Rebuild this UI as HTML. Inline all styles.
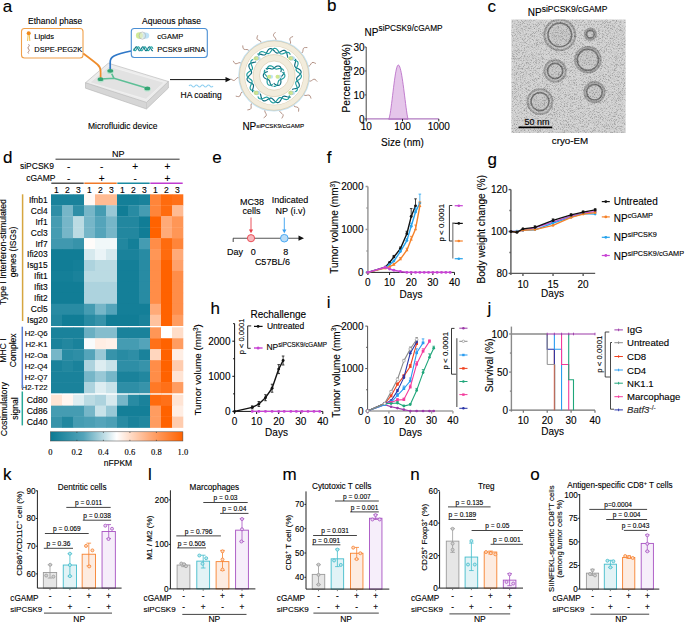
<!DOCTYPE html>
<html><head><meta charset="utf-8"><title>Figure</title>
<style>
html,body{margin:0;padding:0;background:#fff;}
svg{display:block;font-family:"Liberation Sans", sans-serif;}
text{stroke:#000;stroke-width:0.12px;}
</style></head>
<body>
<svg width="685" height="623" viewBox="0 0 685 623">
<text x="2.70" y="11.60" font-size="17" >a</text>
<text x="327.10" y="11.45" font-size="17" >b</text>
<text x="487.60" y="11.95" font-size="17" >c</text>
<text x="2.90" y="163.15" font-size="17" >d</text>
<text x="212.30" y="163.25" font-size="17" >e</text>
<text x="326.80" y="162.70" font-size="17" >f</text>
<text x="487.40" y="165.00" font-size="17" >g</text>
<text x="210.40" y="313.70" font-size="17" >h</text>
<text x="326.70" y="307.60" font-size="17" >i</text>
<text x="487.50" y="313.90" font-size="17" >j</text>
<text x="3.10" y="479.70" font-size="17" >k</text>
<text x="147.90" y="479.70" font-size="17" >l</text>
<text x="282.40" y="479.70" font-size="17" >m</text>
<text x="410.30" y="479.70" font-size="17" >n</text>
<text x="530.30" y="479.50" font-size="17" >o</text>
<text x="28.00" y="24.00" font-size="8.5" >Ethanol phase</text>
<rect x="21.5" y="28.5" width="61.5" height="29.5" rx="3" fill="#fff" stroke="#f0a04a" stroke-width="1.1"/>
<circle cx="28.70" cy="33.20" r="2.00" fill="#f08a1c" stroke="none" stroke-width="1" />
<path d="M28.1 35.0 L27.6 41.0 M29.3 35.0 L29.8 41.0" fill="none" stroke="#f2c14e" stroke-width="1.0" />
<text x="34.30" y="39.30" font-size="7.5" >Lipids</text>
<path d="M28.6 44.3 q1.4 1.2 0 2.4 q-1.4 1.2 0 2.4 q1.4 1.2 0 2.4 q-1.2 1 0 2" fill="none" stroke="#9a6a55" stroke-width="0.8" />
<text x="34.30" y="52.30" font-size="7.5" >DSPE-PEG2K</text>
<text x="142.00" y="24.00" font-size="8.5" >Aqueous phase</text>
<rect x="131.3" y="28.5" width="76" height="29" rx="3" fill="#fff" stroke="#4a8fd4" stroke-width="1.1"/>
<ellipse cx="145.6" cy="35.6" rx="3.6" ry="3.2" fill="#bfe3f7"/>
<ellipse cx="139.4" cy="35.6" rx="3.5" ry="3.3" fill="#d2ea98"/>
<ellipse cx="142.4" cy="35.6" rx="3.2" ry="3.6" fill="#e8efe6" fill-opacity="0.55" stroke="#9aa3a8" stroke-width="0.5"/>
<text x="157.30" y="39.30" font-size="7.5" >cGAMP</text>
<polyline points="133.50,50.66 133.99,50.12 134.47,49.30 134.96,48.36 135.45,47.53 135.94,46.96 136.43,46.80 136.91,47.08 137.40,47.73 137.89,48.61 138.38,49.54 138.86,50.30 139.35,50.74 139.84,50.75 140.32,50.34 140.81,49.59 141.30,48.67 141.79,47.78 142.28,47.11 142.76,46.81 143.25,46.94 143.74,47.48 144.22,48.30 144.71,49.24 145.20,50.07 145.69,50.64 146.18,50.80 146.66,50.52 147.15,49.87 147.64,48.99 148.12,48.06 148.61,47.30 149.10,46.86 149.59,46.85 150.07,47.26 150.56,48.01 151.05,48.93 151.54,49.82 152.03,50.49 152.51,50.79 153.00,50.66" fill="none" stroke="#0e7283" stroke-width="1.1" stroke-linejoin="round" />
<polyline points="133.50,48.80 133.99,49.71 134.47,50.42 134.96,50.78 135.45,50.70 135.94,50.21 136.43,49.42 136.91,48.49 137.40,47.62 137.89,47.02 138.38,46.80 138.86,47.02 139.35,47.62 139.84,48.49 140.32,49.42 140.81,50.21 141.30,50.70 141.79,50.78 142.28,50.42 142.76,49.71 143.25,48.80 143.74,47.89 144.22,47.18 144.71,46.82 145.20,46.90 145.69,47.39 146.18,48.18 146.66,49.11 147.15,49.98 147.64,50.58 148.12,50.80 148.61,50.58 149.10,49.98 149.59,49.11 150.07,48.18 150.56,47.39 151.05,46.90 151.54,46.82 152.03,47.18 152.51,47.89 153.00,48.80" fill="none" stroke="#22a3a3" stroke-width="1.1" stroke-linejoin="round" />
<text x="157.30" y="52.30" font-size="7.5" >PCSK9 siRNA</text>
<path d="M85.5 82.7 L85.5 88.2 L146.5 109.0 L168.4 88.0 L168.4 81.5 Z" fill="#d6d6d6" stroke="#b4b4b4" stroke-width="0.6" />
<path d="M146.5 102.6 L146.5 109.0" fill="none" stroke="#c4c4c4" stroke-width="0.6" />
<path d="M85.5 82.7 L108.3 63.2 L168.4 81.5 L146.5 102.4 Z" fill="#ececec" stroke="#b4b4b4" stroke-width="0.6" />
<path d="M89.8 82.5 L108.9 66.4 L164.2 82.4 L146.0 99.3 Z" fill="#e2e2e2" stroke="#f2f2f2" stroke-width="0.7" />
<path d="M100.6 79 L114 78.3 L147.3 88.2 M110.4 71 L114 78.3" fill="none" stroke="#5dbf96" stroke-width="1.6" />
<path d="M83.3 53.5 C88 57 94 61.5 97.5 64.5 C100 66.8 100.6 68.5 100.6 71 L100.6 78.2" fill="none" stroke="#ef8d2c" stroke-width="1.7" />
<path d="M131 51 C124 52.5 118 54 114 56 C111 57.6 110.2 59.5 110.2 62 L110.2 70" fill="none" stroke="#2f78c8" stroke-width="1.7" />
<ellipse cx="100.6" cy="80.10000000000001" rx="3.4" ry="2.3" fill="#b5e2cc"/>
<ellipse cx="100.6" cy="79.2" rx="2.9" ry="1.9" fill="#35a574"/>
<ellipse cx="110.3" cy="71.7" rx="3.4" ry="2.3" fill="#b5e2cc"/>
<ellipse cx="110.3" cy="70.8" rx="2.9" ry="1.9" fill="#35a574"/>
<ellipse cx="147.3" cy="89.30000000000001" rx="3.4" ry="2.3" fill="#b5e2cc"/>
<ellipse cx="147.3" cy="88.4" rx="2.9" ry="1.9" fill="#35a574"/>
<text x="88.00" y="129.00" font-size="8.5" >Microfluidic device</text>
<line x1="170.00" y1="79.60" x2="227.00" y2="79.60" stroke="#111" stroke-width="1" />
<path d="M231 79.6 L225.5 77.0 L225.5 82.2 Z" fill="#111" stroke="none" stroke-width="1" />
<path d="M189 86 q1.5 -2 3 0 q1.5 2 3 0 q1.5 -2 3 0 q1.5 2 3 0 q1.5 -2 3 0 q1.5 2 3 0 q1.5 -2 3 0 q1.5 2 3 0" fill="none" stroke="#8fcff0" stroke-width="1.2" />
<text x="180.50" y="97.90" font-size="8.5" >HA coating</text>
<defs><filter id="fz" x="-20%" y="-20%" width="140%" height="140%"><feGaussianBlur stdDeviation="0.6"/></filter></defs>
<polyline points="307.86,79.67 308.92,80.79 310.06,81.23 311.31,80.77 312.62,79.84 313.89,79.19 315.07,79.37 316.14,80.36 317.20,81.57" fill="none" stroke="#9b7060" stroke-width="0.75" stroke-linejoin="round" />
<polyline points="303.28,93.05 303.79,94.51 304.66,95.37 305.99,95.46 307.56,95.14 308.99,95.06 309.99,95.71 310.57,97.05 311.04,98.58" fill="none" stroke="#9b7060" stroke-width="0.75" stroke-linejoin="round" />
<polyline points="293.66,103.41 293.54,104.95 293.98,106.09 295.16,106.71 296.72,107.06 298.06,107.57 298.71,108.57 298.69,110.03 298.50,111.62" fill="none" stroke="#9b7060" stroke-width="0.75" stroke-linejoin="round" />
<polyline points="280.66,108.96 279.92,110.32 279.86,111.54 280.68,112.59 281.97,113.54 282.98,114.56 283.17,115.73 282.56,117.06 281.74,118.43" fill="none" stroke="#9b7060" stroke-width="0.75" stroke-linejoin="round" />
<polyline points="266.52,108.75 265.30,109.68 264.74,110.77 265.07,112.07 265.86,113.47 266.37,114.80 266.07,115.95 264.97,116.92 263.66,117.84" fill="none" stroke="#9b7060" stroke-width="0.75" stroke-linejoin="round" />
<polyline points="253.70,102.80 252.19,103.15 251.25,103.93 251.02,105.24 251.17,106.84 251.10,108.27 250.35,109.19 248.95,109.63 247.39,109.94" fill="none" stroke="#9b7060" stroke-width="0.75" stroke-linejoin="round" />
<polyline points="244.40,92.15 242.88,91.86 241.70,92.18 240.96,93.29 240.44,94.81 239.80,96.09 238.74,96.63 237.29,96.46 235.73,96.10" fill="none" stroke="#9b7060" stroke-width="0.75" stroke-linejoin="round" />
<polyline points="240.24,78.64 238.96,77.76 237.76,77.57 236.63,78.28 235.54,79.46 234.43,80.36 233.24,80.43 231.98,79.68 230.71,78.72" fill="none" stroke="#9b7060" stroke-width="0.75" stroke-linejoin="round" />
<polyline points="241.93,64.60 241.12,63.28 240.10,62.62 238.78,62.81 237.30,63.44 235.92,63.82 234.81,63.39 233.96,62.20 233.19,60.80" fill="none" stroke="#9b7060" stroke-width="0.75" stroke-linejoin="round" />
<polyline points="249.18,52.47 248.99,50.93 248.32,49.91 247.04,49.54 245.43,49.53 244.02,49.31 243.17,48.47 242.89,47.03 242.74,45.44" fill="none" stroke="#9b7060" stroke-width="0.75" stroke-linejoin="round" />
<polyline points="260.75,44.33 261.19,42.85 261.00,41.64 259.97,40.79 258.51,40.12 257.31,39.34 256.88,38.23 257.20,36.81 257.72,35.29" fill="none" stroke="#9b7060" stroke-width="0.75" stroke-linejoin="round" />
<polyline points="274.62,41.60 275.63,40.43 275.94,39.25 275.35,38.05 274.29,36.85 273.51,35.65 273.57,34.46 274.44,33.29 275.53,32.12" fill="none" stroke="#9b7060" stroke-width="0.75" stroke-linejoin="round" />
<polyline points="288.40,44.75 289.80,44.09 290.57,43.14 290.52,41.81 290.04,40.28 289.81,38.86 290.35,37.80 291.62,37.09 293.09,36.46" fill="none" stroke="#9b7060" stroke-width="0.75" stroke-linejoin="round" />
<polyline points="299.71,53.24 301.26,53.20 302.35,52.64 302.84,51.41 303.03,49.81 303.39,48.43 304.32,47.68 305.77,47.54 307.37,47.57" fill="none" stroke="#9b7060" stroke-width="0.75" stroke-linejoin="round" />
<polyline points="306.59,65.59 308.02,66.18 309.24,66.12 310.20,65.19 311.01,63.81 311.91,62.69 313.06,62.38 314.45,62.85 315.90,63.52" fill="none" stroke="#9b7060" stroke-width="0.75" stroke-linejoin="round" />
<circle cx="274.10" cy="75.60" r="34.60" fill="none" stroke="#c6e4f5" stroke-width="2.6" filter="url(#fz)"/>
<circle cx="274.10" cy="75.60" r="32.00" fill="none" stroke="#f2ecdc" stroke-width="5.4" />
<circle cx="274.10" cy="75.60" r="34.70" fill="none" stroke="#cdbb96" stroke-width="0.5" />
<circle cx="274.10" cy="75.60" r="29.30" fill="none" stroke="#cdbb96" stroke-width="0.5" />
<circle cx="274.10" cy="75.60" r="29.00" fill="#fff" stroke="none" stroke-width="1" />
<circle cx="274.10" cy="75.60" r="17.80" fill="none" stroke="#f2ecdc" stroke-width="6.4" />
<circle cx="274.10" cy="75.60" r="21.00" fill="none" stroke="#cdbb96" stroke-width="0.5" />
<circle cx="274.10" cy="75.60" r="14.60" fill="none" stroke="#cdbb96" stroke-width="0.5" />
<polyline points="257.46,54.16 258.27,54.01 259.18,54.02 260.14,54.18 261.11,54.41 262.05,54.67 262.92,54.89 263.71,55.02 264.40,55.00 265.00,54.80 265.51,54.41 265.97,53.84 266.40,53.11 266.82,52.28 267.27,51.40 267.77,50.54 268.32,49.77 268.95,49.16 269.63,48.74 270.36,48.56 271.12,48.63 271.89,48.92 272.66,49.41 273.40,50.04 274.10,50.74 274.76,51.46 275.39,52.10 276.00,52.62 276.60,52.97 277.21,53.11 277.86,53.05 278.54,52.80 279.29,52.41 280.08,51.92 280.93,51.40 281.80,50.93 282.68,50.56 283.53,50.36 284.33,50.37 285.04,50.59 285.66,51.05 286.17,51.70 286.56,52.52 286.86,53.44 287.09,54.41 287.29,55.36 287.49,56.24 287.73,57.00 288.06,57.61" fill="none" stroke="#0e6d7e" stroke-width="1.15" stroke-linejoin="round" />
<polyline points="258.77,55.85 258.90,54.86 259.11,53.93 259.44,53.10 259.89,52.42 260.48,51.94 261.19,51.68 262.00,51.62 262.88,51.76 263.79,52.05 264.71,52.43 265.60,52.85 266.44,53.23 267.21,53.51 267.91,53.64 268.54,53.59 269.12,53.34 269.67,52.89 270.22,52.27 270.77,51.54 271.36,50.75 271.98,49.98 272.65,49.29 273.36,48.75 274.10,48.41 274.85,48.31 275.59,48.45 276.31,48.83 276.99,49.41 277.62,50.13 278.21,50.94 278.75,51.76 279.26,52.52 279.77,53.17 280.29,53.64 280.86,53.93 281.49,54.02 282.20,53.92 282.98,53.68 283.84,53.35 284.75,52.98 285.69,52.65 286.62,52.41 287.50,52.32 288.31,52.42 289.00,52.73 289.56,53.24 289.98,53.94 290.26,54.78" fill="none" stroke="#1f9e9e" stroke-width="1.15" stroke-linejoin="round" />
<polyline points="295.54,58.96 295.69,59.77 295.68,60.68 295.52,61.64 295.29,62.61 295.03,63.55 294.81,64.42 294.68,65.21 294.70,65.90 294.90,66.50 295.29,67.01 295.86,67.47 296.59,67.90 297.42,68.32 298.30,68.77 299.16,69.27 299.93,69.82 300.54,70.45 300.96,71.13 301.14,71.86 301.07,72.62 300.78,73.39 300.29,74.16 299.66,74.90 298.96,75.60 298.24,76.26 297.60,76.89 297.08,77.50 296.73,78.10 296.59,78.71 296.65,79.36 296.90,80.04 297.29,80.79 297.78,81.58 298.30,82.43 298.77,83.30 299.14,84.18 299.34,85.03 299.33,85.83 299.11,86.54 298.65,87.16 298.00,87.67 297.18,88.06 296.26,88.36 295.29,88.59 294.34,88.79 293.46,88.99 292.70,89.23 292.09,89.56" fill="none" stroke="#0e6d7e" stroke-width="1.15" stroke-linejoin="round" />
<polyline points="293.85,60.27 294.84,60.40 295.77,60.61 296.60,60.94 297.28,61.39 297.76,61.98 298.02,62.69 298.08,63.50 297.94,64.38 297.65,65.29 297.27,66.21 296.85,67.10 296.47,67.94 296.19,68.71 296.06,69.41 296.11,70.04 296.36,70.62 296.81,71.17 297.43,71.72 298.16,72.27 298.95,72.86 299.72,73.48 300.41,74.15 300.95,74.86 301.29,75.60 301.39,76.35 301.25,77.09 300.87,77.81 300.29,78.49 299.57,79.12 298.76,79.71 297.94,80.25 297.18,80.76 296.53,81.27 296.06,81.79 295.77,82.36 295.68,82.99 295.78,83.70 296.02,84.48 296.35,85.34 296.72,86.25 297.05,87.19 297.29,88.12 297.38,89.00 297.28,89.81 296.97,90.50 296.46,91.06 295.76,91.48 294.92,91.76" fill="none" stroke="#1f9e9e" stroke-width="1.15" stroke-linejoin="round" />
<polyline points="290.74,97.04 289.93,97.19 289.02,97.18 288.06,97.02 287.09,96.79 286.15,96.53 285.28,96.31 284.49,96.18 283.80,96.20 283.20,96.40 282.69,96.79 282.23,97.36 281.80,98.09 281.38,98.92 280.93,99.80 280.43,100.66 279.88,101.43 279.25,102.04 278.57,102.46 277.84,102.64 277.08,102.57 276.31,102.28 275.54,101.79 274.80,101.16 274.10,100.46 273.44,99.74 272.81,99.10 272.20,98.58 271.60,98.23 270.99,98.09 270.34,98.15 269.66,98.40 268.91,98.79 268.12,99.28 267.27,99.80 266.40,100.27 265.52,100.64 264.67,100.84 263.87,100.83 263.16,100.61 262.54,100.15 262.03,99.50 261.64,98.68 261.34,97.76 261.11,96.79 260.91,95.84 260.71,94.96 260.47,94.20 260.14,93.59" fill="none" stroke="#0e6d7e" stroke-width="1.15" stroke-linejoin="round" />
<polyline points="289.43,95.35 289.30,96.34 289.09,97.27 288.76,98.10 288.31,98.78 287.72,99.26 287.01,99.52 286.20,99.58 285.32,99.44 284.41,99.15 283.49,98.77 282.60,98.35 281.76,97.97 280.99,97.69 280.29,97.56 279.66,97.61 279.08,97.86 278.53,98.31 277.98,98.93 277.43,99.66 276.84,100.45 276.22,101.22 275.55,101.91 274.84,102.45 274.10,102.79 273.35,102.89 272.61,102.75 271.89,102.37 271.21,101.79 270.58,101.07 269.99,100.26 269.45,99.44 268.94,98.68 268.43,98.03 267.91,97.56 267.34,97.27 266.71,97.18 266.00,97.28 265.22,97.52 264.36,97.85 263.45,98.22 262.51,98.55 261.58,98.79 260.70,98.88 259.89,98.78 259.20,98.47 258.64,97.96 258.22,97.26 257.94,96.42" fill="none" stroke="#1f9e9e" stroke-width="1.15" stroke-linejoin="round" />
<polyline points="252.66,92.24 252.51,91.43 252.52,90.52 252.68,89.56 252.91,88.59 253.17,87.65 253.39,86.78 253.52,85.99 253.50,85.30 253.30,84.70 252.91,84.19 252.34,83.73 251.61,83.30 250.78,82.88 249.90,82.43 249.04,81.93 248.27,81.38 247.66,80.75 247.24,80.07 247.06,79.34 247.13,78.58 247.42,77.81 247.91,77.04 248.54,76.30 249.24,75.60 249.96,74.94 250.60,74.31 251.12,73.70 251.47,73.10 251.61,72.49 251.55,71.84 251.30,71.16 250.91,70.41 250.42,69.62 249.90,68.77 249.43,67.90 249.06,67.02 248.86,66.17 248.87,65.37 249.09,64.66 249.55,64.04 250.20,63.53 251.02,63.14 251.94,62.84 252.91,62.61 253.86,62.41 254.74,62.21 255.50,61.97 256.11,61.64" fill="none" stroke="#0e6d7e" stroke-width="1.15" stroke-linejoin="round" />
<polyline points="254.35,90.93 253.36,90.80 252.43,90.59 251.60,90.26 250.92,89.81 250.44,89.22 250.18,88.51 250.12,87.70 250.26,86.82 250.55,85.91 250.93,84.99 251.35,84.10 251.73,83.26 252.01,82.49 252.14,81.79 252.09,81.16 251.84,80.58 251.39,80.03 250.77,79.48 250.04,78.93 249.25,78.34 248.48,77.72 247.79,77.05 247.25,76.34 246.91,75.60 246.81,74.85 246.95,74.11 247.33,73.39 247.91,72.71 248.63,72.08 249.44,71.49 250.26,70.95 251.02,70.44 251.67,69.93 252.14,69.41 252.43,68.84 252.52,68.21 252.42,67.50 252.18,66.72 251.85,65.86 251.48,64.95 251.15,64.01 250.91,63.08 250.82,62.20 250.92,61.39 251.23,60.70 251.74,60.14 252.44,59.72 253.28,59.44" fill="none" stroke="#1f9e9e" stroke-width="1.15" stroke-linejoin="round" />
<ellipse cx="292.6" cy="92.9" rx="2.6" ry="2.1" fill="#bfe3f6"/>
<ellipse cx="290.6" cy="92.9" rx="2.4" ry="2.1" fill="#cfe78e"/>
<ellipse cx="291.4" cy="92.9" rx="2.0" ry="2.0" fill="none" stroke="#9aa" stroke-width="0.35"/>
<ellipse cx="258.0" cy="92.9" rx="2.6" ry="2.1" fill="#bfe3f6"/>
<ellipse cx="256.0" cy="92.9" rx="2.4" ry="2.1" fill="#cfe78e"/>
<ellipse cx="256.8" cy="92.9" rx="2.0" ry="2.0" fill="none" stroke="#9aa" stroke-width="0.35"/>
<ellipse cx="258.0" cy="58.3" rx="2.6" ry="2.1" fill="#bfe3f6"/>
<ellipse cx="256.0" cy="58.3" rx="2.4" ry="2.1" fill="#cfe78e"/>
<ellipse cx="256.8" cy="58.3" rx="2.0" ry="2.0" fill="none" stroke="#9aa" stroke-width="0.35"/>
<ellipse cx="292.6" cy="58.3" rx="2.6" ry="2.1" fill="#bfe3f6"/>
<ellipse cx="290.6" cy="58.3" rx="2.4" ry="2.1" fill="#cfe78e"/>
<ellipse cx="291.4" cy="58.3" rx="2.0" ry="2.0" fill="none" stroke="#9aa" stroke-width="0.35"/>
<polyline points="265.75,68.97 266.15,68.73 266.59,68.54 267.06,68.41 267.55,68.33 268.06,68.30 268.57,68.32 269.07,68.37 269.56,68.46 270.02,68.56 270.46,68.67 270.87,68.78 271.26,68.88 271.61,68.95 271.94,69.00 272.24,69.01 272.53,68.98 272.80,68.91 273.07,68.79 273.34,68.63 273.62,68.42 273.91,68.18 274.23,67.92 274.57,67.63 274.93,67.34 275.32,67.05 275.74,66.77 276.18,66.52 276.64,66.31 277.11,66.14 277.59,66.03 278.08,65.97 278.55,65.99 279.00,66.07 279.43,66.22 279.82,66.44 280.17,66.73 280.47,67.07 280.73,67.46 280.92,67.90 281.07,68.37 281.16,68.86 281.20,69.36 281.19,69.87 281.15,70.38 281.09,70.86 281.00,71.33 280.90,71.77 280.81,72.19" fill="none" stroke="#0e6d7e" stroke-width="1.15" stroke-linejoin="round" />
<polyline points="267.21,70.13 267.18,69.63 267.20,69.12 267.26,68.61 267.37,68.13 267.53,67.66 267.74,67.24 268.01,66.85 268.33,66.52 268.69,66.26 269.09,66.05 269.52,65.92 269.98,65.85 270.45,65.86 270.93,65.93 271.41,66.06 271.88,66.25 272.33,66.48 272.76,66.74 273.17,67.03 273.55,67.34 273.90,67.64 274.23,67.93 274.53,68.21 274.82,68.45 275.09,68.66 275.35,68.83 275.62,68.96 275.89,69.04 276.18,69.07 276.48,69.07 276.81,69.03 277.17,68.96 277.56,68.88 277.98,68.78 278.42,68.68 278.89,68.60 279.38,68.53 279.89,68.49 280.39,68.50 280.90,68.54 281.39,68.64 281.85,68.79 282.28,68.99 282.67,69.25 283.01,69.56 283.28,69.92 283.49,70.31 283.64,70.75" fill="none" stroke="#1f9e9e" stroke-width="1.15" stroke-linejoin="round" />
<polyline points="284.01,71.68 284.02,72.15 283.97,72.62 283.85,73.10 283.67,73.56 283.44,74.02 283.17,74.45 282.87,74.85 282.56,75.24 282.24,75.59 281.92,75.92 281.62,76.22 281.34,76.50 281.10,76.77 280.90,77.03 280.73,77.28 280.62,77.55 280.54,77.82 280.51,78.11 280.52,78.43 280.56,78.77 280.62,79.15 280.69,79.55 280.77,79.99 280.84,80.45 280.90,80.93 280.93,81.43 280.92,81.94 280.88,82.44 280.79,82.94 280.64,83.41 280.45,83.86 280.20,84.26 279.90,84.61 279.56,84.90 279.17,85.13 278.75,85.29 278.30,85.39 277.83,85.41 277.36,85.36 276.88,85.25 276.41,85.08 275.95,84.86 275.51,84.61 275.10,84.32 274.71,84.02 274.35,83.71 274.01,83.40 273.70,83.11" fill="none" stroke="#0e6d7e" stroke-width="1.15" stroke-linejoin="round" />
<polyline points="282.28,72.37 282.73,72.60 283.16,72.86 283.57,73.17 283.94,73.51 284.26,73.88 284.52,74.28 284.72,74.70 284.85,75.14 284.90,75.58 284.87,76.03 284.77,76.48 284.60,76.90 284.36,77.31 284.06,77.69 283.71,78.04 283.31,78.35 282.89,78.63 282.44,78.87 281.98,79.08 281.53,79.25 281.09,79.41 280.68,79.54 280.29,79.67 279.93,79.79 279.61,79.92 279.33,80.07 279.09,80.24 278.89,80.43 278.71,80.66 278.56,80.93 278.43,81.24 278.31,81.58 278.19,81.96 278.07,82.37 277.93,82.80 277.77,83.25 277.58,83.71 277.36,84.16 277.11,84.60 276.81,85.02 276.48,85.39 276.12,85.72 275.73,85.99 275.31,86.20 274.88,86.33 274.43,86.39 273.98,86.38 273.54,86.29" fill="none" stroke="#1f9e9e" stroke-width="1.15" stroke-linejoin="round" />
<polyline points="272.54,86.14 272.13,85.92 271.74,85.63 271.39,85.29 271.08,84.90 270.80,84.48 270.56,84.03 270.36,83.57 270.19,83.11 270.04,82.65 269.92,82.22 269.81,81.80 269.70,81.42 269.59,81.08 269.47,80.77 269.32,80.50 269.16,80.27 268.95,80.07 268.72,79.90 268.44,79.74 268.12,79.60 267.77,79.47 267.38,79.33 266.97,79.18 266.53,79.01 266.08,78.82 265.64,78.60 265.20,78.34 264.78,78.05 264.40,77.72 264.06,77.36 263.78,76.97 263.55,76.55 263.40,76.12 263.31,75.67 263.31,75.23 263.38,74.78 263.52,74.35 263.74,73.93 264.02,73.54 264.35,73.18 264.73,72.86 265.15,72.57 265.59,72.32 266.05,72.10 266.50,71.92 266.95,71.76 267.38,71.62 267.79,71.50" fill="none" stroke="#0e6d7e" stroke-width="1.15" stroke-linejoin="round" />
<polyline points="272.81,84.30 272.38,84.58 271.94,84.82 271.47,85.02 270.99,85.17 270.51,85.26 270.04,85.29 269.57,85.25 269.13,85.14 268.71,84.96 268.34,84.71 268.00,84.41 267.72,84.04 267.49,83.63 267.31,83.18 267.18,82.70 267.11,82.20 267.09,81.69 267.10,81.19 267.15,80.69 267.22,80.21 267.31,79.75 267.40,79.32 267.48,78.92 267.55,78.55 267.60,78.21 267.61,77.90 267.59,77.60 267.52,77.33 267.41,77.06 267.25,76.80 267.05,76.54 266.82,76.26 266.55,75.97 266.25,75.65 265.95,75.32 265.64,74.95 265.34,74.56 265.05,74.14 264.80,73.70 264.59,73.24 264.43,72.77 264.32,72.29 264.29,71.82 264.32,71.35 264.42,70.91 264.59,70.49 264.83,70.11 265.13,69.77" fill="none" stroke="#1f9e9e" stroke-width="1.15" stroke-linejoin="round" />
<ellipse cx="270.9" cy="76.8" rx="2.3" ry="2.0" fill="#bfe3f6"/>
<ellipse cx="269.2" cy="76.8" rx="2.1" ry="2.0" fill="#cfe78e"/>
<ellipse cx="279.3" cy="76.8" rx="2.3" ry="2.0" fill="#bfe3f6"/>
<ellipse cx="277.6" cy="76.8" rx="2.1" ry="2.0" fill="#cfe78e"/>
<text x="242.40" y="129.60" font-size="10" >NP<tspan font-size="6.2" dy="-2.10">siPCSK9/cGAMP</tspan></text>
<text x="364.60" y="35.50" font-size="10" >NP<tspan font-size="8.3" dy="-4.40">siPCSK9/cGAMP</tspan></text>
<path d="M388.7 119.3 L388.70 118.90 L389.18 117.97 L389.66 116.11 L390.15 113.60 L390.63 110.60 L391.11 107.21 L391.59 103.54 L392.08 99.67 L392.56 95.69 L393.04 91.68 L393.52 87.73 L394.01 83.90 L394.49 80.26 L394.97 76.90 L395.45 73.86 L395.94 71.20 L396.42 68.97 L396.90 67.20 L397.38 65.94 L397.87 65.19 L398.35 64.98 L398.83 65.24 L399.31 65.92 L399.80 67.02 L400.28 68.52 L400.76 70.41 L401.25 72.66 L401.73 75.25 L402.21 78.15 L402.69 81.32 L403.18 84.72 L403.66 88.30 L404.14 92.03 L404.62 95.85 L405.11 99.70 L405.59 103.53 L406.07 107.26 L406.55 110.82 L407.04 114.10 L407.52 116.94 L408.00 118.90 L408 119.3 Z" fill="#e5c6ea" stroke="#b565c4" stroke-width="0.8" />
<line x1="366.20" y1="118.90" x2="438.80" y2="118.90" stroke="#b07ac0" stroke-width="1.3" />
<line x1="366.20" y1="47.00" x2="366.20" y2="118.90" stroke="#444" stroke-width="1" />
<line x1="364.60" y1="118.90" x2="366.20" y2="118.90" stroke="#444" stroke-width="1" />
<text x="364.60" y="122.50" font-size="10" text-anchor="end" >0</text>
<line x1="364.60" y1="94.93" x2="366.20" y2="94.93" stroke="#444" stroke-width="1" />
<text x="364.60" y="98.53" font-size="10" text-anchor="end" >10</text>
<line x1="364.60" y1="70.97" x2="366.20" y2="70.97" stroke="#444" stroke-width="1" />
<text x="364.60" y="74.57" font-size="10" text-anchor="end" >20</text>
<line x1="364.60" y1="47.00" x2="366.20" y2="47.00" stroke="#444" stroke-width="1" />
<text x="364.60" y="50.60" font-size="10" text-anchor="end" >30</text>
<line x1="366.20" y1="118.90" x2="366.20" y2="121.40" stroke="#222" stroke-width="1" />
<text x="366.20" y="130.20" font-size="10" text-anchor="middle" >10</text>
<line x1="402.50" y1="118.90" x2="402.50" y2="121.40" stroke="#222" stroke-width="1" />
<text x="402.50" y="130.20" font-size="10" text-anchor="middle" >100</text>
<line x1="438.80" y1="118.90" x2="438.80" y2="121.40" stroke="#222" stroke-width="1" />
<text x="438.80" y="130.20" font-size="10" text-anchor="middle" >1000</text>
<text x="402.50" y="145.80" font-size="10" text-anchor="middle" >Size (nm)</text>
<text x="349.90" y="78.20" font-size="10.3" text-anchor="middle" transform="rotate(-90 349.90 78.20)" >Percentage(%)</text>
<text x="527.80" y="16.00" font-size="10" >NP<tspan font-size="8.5" dy="-3.60">siPCSK9/cGAMP</tspan></text>
<defs><filter id="noise" x="0" y="0" width="100%" height="100%">
<feTurbulence type="fractalNoise" baseFrequency="1.5" numOctaves="2" seed="7" result="n"/>
<feColorMatrix in="n" type="matrix" values="0 0 0 0 0  0 0 0 0 0  0 0 0 0 0  -2.2 0 0 0 1.25" result="a"/>
<feComposite operator="in" in="a" in2="SourceGraphic"/>
</filter>
<filter id="emb" x="-30%" y="-30%" width="160%" height="160%"><feGaussianBlur stdDeviation="0.55"/></filter>
<clipPath id="emclip"><rect x="511.4" y="19.5" width="114.2" height="113.5"/></clipPath></defs>
<rect x="511.40" y="19.50" width="114.20" height="113.50" fill="#d7d7d7" stroke="none" stroke-width="1" />
<g filter="url(#emb)" clip-path="url(#emclip)">
<circle cx="559.80" cy="34.90" r="15.40" fill="#cacaca" stroke="#a2a2a2" stroke-width="2.0" />
<circle cx="559.80" cy="34.90" r="11.80" fill="#cdcdcd" stroke="#7a7a7a" stroke-width="1.6" />
<circle cx="590.40" cy="34.20" r="5.60" fill="#cacaca" stroke="#a2a2a2" stroke-width="2.0" />
<circle cx="590.40" cy="34.20" r="3.80" fill="#cdcdcd" stroke="#7a7a7a" stroke-width="1.6" />
<circle cx="587.90" cy="59.70" r="12.80" fill="#cacaca" stroke="#a2a2a2" stroke-width="2.0" />
<circle cx="587.90" cy="59.70" r="10.60" fill="#cdcdcd" stroke="#7a7a7a" stroke-width="1.6" />
<circle cx="555.10" cy="71.00" r="10.70" fill="#cacaca" stroke="#a2a2a2" stroke-width="2.0" />
<circle cx="555.10" cy="71.00" r="7.60" fill="#cdcdcd" stroke="#7a7a7a" stroke-width="1.6" />
<circle cx="594.50" cy="92.20" r="10.10" fill="#cacaca" stroke="#a2a2a2" stroke-width="2.0" />
<circle cx="594.50" cy="92.20" r="7.80" fill="#cdcdcd" stroke="#7a7a7a" stroke-width="1.6" />
<circle cx="540.00" cy="101.60" r="12.40" fill="#cacaca" stroke="#a2a2a2" stroke-width="2.0" />
<circle cx="540.00" cy="101.60" r="9.00" fill="#cdcdcd" stroke="#7a7a7a" stroke-width="1.6" />
</g>
<rect x="511.40" y="19.50" width="114.20" height="113.50" fill="#444" stroke="none" stroke-width="1" filter="url(#noise)" opacity="0.34"/>
<line x1="518.50" y1="127.40" x2="552.30" y2="127.40" stroke="#000" stroke-width="1.6" />
<text x="537.00" y="124.70" font-size="9" text-anchor="middle" >50 nm</text>
<text x="570.00" y="144.20" font-size="9.8" text-anchor="middle" >cryo-EM</text>
<rect x="51.00" y="194.30" width="11.30" height="11.25" fill="#1a829b" stroke="none" stroke-width="1" />
<rect x="62.00" y="194.30" width="11.30" height="11.25" fill="#1a829b" stroke="none" stroke-width="1" />
<rect x="73.00" y="194.30" width="11.30" height="11.25" fill="#1a829b" stroke="none" stroke-width="1" />
<rect x="84.00" y="194.30" width="11.30" height="11.25" fill="#fff8f4" stroke="none" stroke-width="1" />
<rect x="95.00" y="194.30" width="11.30" height="11.25" fill="#ffbb93" stroke="none" stroke-width="1" />
<rect x="106.00" y="194.30" width="11.30" height="11.25" fill="#ffbb93" stroke="none" stroke-width="1" />
<rect x="117.00" y="194.30" width="11.30" height="11.25" fill="#147f98" stroke="none" stroke-width="1" />
<rect x="128.00" y="194.30" width="11.30" height="11.25" fill="#147f98" stroke="none" stroke-width="1" />
<rect x="139.00" y="194.30" width="11.30" height="11.25" fill="#1a829b" stroke="none" stroke-width="1" />
<rect x="150.00" y="194.30" width="11.30" height="11.25" fill="#ff853a" stroke="none" stroke-width="1" />
<rect x="161.00" y="194.30" width="11.30" height="11.25" fill="#ff6b0e" stroke="none" stroke-width="1" />
<rect x="172.00" y="194.30" width="11.30" height="11.25" fill="#ff7018" stroke="none" stroke-width="1" />
<text x="47.60" y="202.70" font-size="8.4" text-anchor="end" >Ifnb1</text>
<rect x="51.00" y="205.25" width="11.30" height="11.25" fill="#2e8ea6" stroke="none" stroke-width="1" />
<rect x="62.00" y="205.25" width="11.30" height="11.25" fill="#76b6c8" stroke="none" stroke-width="1" />
<rect x="73.00" y="205.25" width="11.30" height="11.25" fill="#2e8ea6" stroke="none" stroke-width="1" />
<rect x="84.00" y="205.25" width="11.30" height="11.25" fill="#76b6c8" stroke="none" stroke-width="1" />
<rect x="95.00" y="205.25" width="11.30" height="11.25" fill="#459cb2" stroke="none" stroke-width="1" />
<rect x="106.00" y="205.25" width="11.30" height="11.25" fill="#98c8d6" stroke="none" stroke-width="1" />
<rect x="117.00" y="205.25" width="11.30" height="11.25" fill="#117d96" stroke="none" stroke-width="1" />
<rect x="128.00" y="205.25" width="11.30" height="11.25" fill="#288ba3" stroke="none" stroke-width="1" />
<rect x="139.00" y="205.25" width="11.30" height="11.25" fill="#459cb2" stroke="none" stroke-width="1" />
<rect x="150.00" y="205.25" width="11.30" height="11.25" fill="#ff853a" stroke="none" stroke-width="1" />
<rect x="161.00" y="205.25" width="11.30" height="11.25" fill="#ff6b0e" stroke="none" stroke-width="1" />
<rect x="172.00" y="205.25" width="11.30" height="11.25" fill="#ffbb93" stroke="none" stroke-width="1" />
<text x="47.60" y="213.65" font-size="8.4" text-anchor="end" >Ccl4</text>
<rect x="51.00" y="216.20" width="11.30" height="11.25" fill="#459cb2" stroke="none" stroke-width="1" />
<rect x="62.00" y="216.20" width="11.30" height="11.25" fill="#76b6c8" stroke="none" stroke-width="1" />
<rect x="73.00" y="216.20" width="11.30" height="11.25" fill="#bbdbe3" stroke="none" stroke-width="1" />
<rect x="84.00" y="216.20" width="11.30" height="11.25" fill="#76b6c8" stroke="none" stroke-width="1" />
<rect x="95.00" y="216.20" width="11.30" height="11.25" fill="#54a4ba" stroke="none" stroke-width="1" />
<rect x="106.00" y="216.20" width="11.30" height="11.25" fill="#76b6c8" stroke="none" stroke-width="1" />
<rect x="117.00" y="216.20" width="11.30" height="11.25" fill="#22879f" stroke="none" stroke-width="1" />
<rect x="128.00" y="216.20" width="11.30" height="11.25" fill="#22879f" stroke="none" stroke-width="1" />
<rect x="139.00" y="216.20" width="11.30" height="11.25" fill="#117d96" stroke="none" stroke-width="1" />
<rect x="150.00" y="216.20" width="11.30" height="11.25" fill="#ff6200" stroke="none" stroke-width="1" />
<rect x="161.00" y="216.20" width="11.30" height="11.25" fill="#ffaa78" stroke="none" stroke-width="1" />
<rect x="172.00" y="216.20" width="11.30" height="11.25" fill="#ff9656" stroke="none" stroke-width="1" />
<text x="47.60" y="224.60" font-size="8.4" text-anchor="end" >Irf1</text>
<rect x="51.00" y="227.15" width="11.30" height="11.25" fill="#459cb2" stroke="none" stroke-width="1" />
<rect x="62.00" y="227.15" width="11.30" height="11.25" fill="#76b6c8" stroke="none" stroke-width="1" />
<rect x="73.00" y="227.15" width="11.30" height="11.25" fill="#bbdbe3" stroke="none" stroke-width="1" />
<rect x="84.00" y="227.15" width="11.30" height="11.25" fill="#76b6c8" stroke="none" stroke-width="1" />
<rect x="95.00" y="227.15" width="11.30" height="11.25" fill="#54a4ba" stroke="none" stroke-width="1" />
<rect x="106.00" y="227.15" width="11.30" height="11.25" fill="#76b6c8" stroke="none" stroke-width="1" />
<rect x="117.00" y="227.15" width="11.30" height="11.25" fill="#22879f" stroke="none" stroke-width="1" />
<rect x="128.00" y="227.15" width="11.30" height="11.25" fill="#22879f" stroke="none" stroke-width="1" />
<rect x="139.00" y="227.15" width="11.30" height="11.25" fill="#117d96" stroke="none" stroke-width="1" />
<rect x="150.00" y="227.15" width="11.30" height="11.25" fill="#ff6200" stroke="none" stroke-width="1" />
<rect x="161.00" y="227.15" width="11.30" height="11.25" fill="#ffaa78" stroke="none" stroke-width="1" />
<rect x="172.00" y="227.15" width="11.30" height="11.25" fill="#ff9656" stroke="none" stroke-width="1" />
<text x="47.60" y="235.55" font-size="8.4" text-anchor="end" >Ccl3</text>
<rect x="51.00" y="238.10" width="11.30" height="11.25" fill="#4098af" stroke="none" stroke-width="1" />
<rect x="62.00" y="238.10" width="11.30" height="11.25" fill="#4098af" stroke="none" stroke-width="1" />
<rect x="73.00" y="238.10" width="11.30" height="11.25" fill="#3793aa" stroke="none" stroke-width="1" />
<rect x="84.00" y="238.10" width="11.30" height="11.25" fill="#fffcfa" stroke="none" stroke-width="1" />
<rect x="95.00" y="238.10" width="11.30" height="11.25" fill="#f1f8f9" stroke="none" stroke-width="1" />
<rect x="106.00" y="238.10" width="11.30" height="11.25" fill="#f1f8f9" stroke="none" stroke-width="1" />
<rect x="117.00" y="238.10" width="11.30" height="11.25" fill="#22879f" stroke="none" stroke-width="1" />
<rect x="128.00" y="238.10" width="11.30" height="11.25" fill="#147f98" stroke="none" stroke-width="1" />
<rect x="139.00" y="238.10" width="11.30" height="11.25" fill="#459cb2" stroke="none" stroke-width="1" />
<rect x="150.00" y="238.10" width="11.30" height="11.25" fill="#ff8d48" stroke="none" stroke-width="1" />
<rect x="161.00" y="238.10" width="11.30" height="11.25" fill="#ff6b0e" stroke="none" stroke-width="1" />
<rect x="172.00" y="238.10" width="11.30" height="11.25" fill="#ff853a" stroke="none" stroke-width="1" />
<text x="47.60" y="246.50" font-size="8.4" text-anchor="end" >Irf7</text>
<rect x="51.00" y="249.05" width="11.30" height="11.25" fill="#117d96" stroke="none" stroke-width="1" />
<rect x="62.00" y="249.05" width="11.30" height="11.25" fill="#117d96" stroke="none" stroke-width="1" />
<rect x="73.00" y="249.05" width="11.30" height="11.25" fill="#117d96" stroke="none" stroke-width="1" />
<rect x="84.00" y="249.05" width="11.30" height="11.25" fill="#d6e9ee" stroke="none" stroke-width="1" />
<rect x="95.00" y="249.05" width="11.30" height="11.25" fill="#eaf4f7" stroke="none" stroke-width="1" />
<rect x="106.00" y="249.05" width="11.30" height="11.25" fill="#d6e9ee" stroke="none" stroke-width="1" />
<rect x="117.00" y="249.05" width="11.30" height="11.25" fill="#1a829b" stroke="none" stroke-width="1" />
<rect x="128.00" y="249.05" width="11.30" height="11.25" fill="#1a829b" stroke="none" stroke-width="1" />
<rect x="139.00" y="249.05" width="11.30" height="11.25" fill="#288ba3" stroke="none" stroke-width="1" />
<rect x="150.00" y="249.05" width="11.30" height="11.25" fill="#ff9656" stroke="none" stroke-width="1" />
<rect x="161.00" y="249.05" width="11.30" height="11.25" fill="#ff6b0e" stroke="none" stroke-width="1" />
<rect x="172.00" y="249.05" width="11.30" height="11.25" fill="#ffaa78" stroke="none" stroke-width="1" />
<text x="47.60" y="257.45" font-size="8.4" text-anchor="end" >Ifi203</text>
<rect x="51.00" y="260.00" width="11.30" height="11.25" fill="#117d96" stroke="none" stroke-width="1" />
<rect x="62.00" y="260.00" width="11.30" height="11.25" fill="#117d96" stroke="none" stroke-width="1" />
<rect x="73.00" y="260.00" width="11.30" height="11.25" fill="#147f98" stroke="none" stroke-width="1" />
<rect x="84.00" y="260.00" width="11.30" height="11.25" fill="#add3de" stroke="none" stroke-width="1" />
<rect x="95.00" y="260.00" width="11.30" height="11.25" fill="#bbdbe3" stroke="none" stroke-width="1" />
<rect x="106.00" y="260.00" width="11.30" height="11.25" fill="#bbdbe3" stroke="none" stroke-width="1" />
<rect x="117.00" y="260.00" width="11.30" height="11.25" fill="#147f98" stroke="none" stroke-width="1" />
<rect x="128.00" y="260.00" width="11.30" height="11.25" fill="#147f98" stroke="none" stroke-width="1" />
<rect x="139.00" y="260.00" width="11.30" height="11.25" fill="#288ba3" stroke="none" stroke-width="1" />
<rect x="150.00" y="260.00" width="11.30" height="11.25" fill="#ff8d48" stroke="none" stroke-width="1" />
<rect x="161.00" y="260.00" width="11.30" height="11.25" fill="#ff6200" stroke="none" stroke-width="1" />
<rect x="172.00" y="260.00" width="11.30" height="11.25" fill="#ffa16a" stroke="none" stroke-width="1" />
<text x="47.60" y="268.40" font-size="8.4" text-anchor="end" >Isg15</text>
<rect x="51.00" y="270.95" width="11.30" height="11.25" fill="#147f98" stroke="none" stroke-width="1" />
<rect x="62.00" y="270.95" width="11.30" height="11.25" fill="#147f98" stroke="none" stroke-width="1" />
<rect x="73.00" y="270.95" width="11.30" height="11.25" fill="#1a829b" stroke="none" stroke-width="1" />
<rect x="84.00" y="270.95" width="11.30" height="11.25" fill="#bbdbe3" stroke="none" stroke-width="1" />
<rect x="95.00" y="270.95" width="11.30" height="11.25" fill="#bbdbe3" stroke="none" stroke-width="1" />
<rect x="106.00" y="270.95" width="11.30" height="11.25" fill="#bbdbe3" stroke="none" stroke-width="1" />
<rect x="117.00" y="270.95" width="11.30" height="11.25" fill="#147f98" stroke="none" stroke-width="1" />
<rect x="128.00" y="270.95" width="11.30" height="11.25" fill="#147f98" stroke="none" stroke-width="1" />
<rect x="139.00" y="270.95" width="11.30" height="11.25" fill="#288ba3" stroke="none" stroke-width="1" />
<rect x="150.00" y="270.95" width="11.30" height="11.25" fill="#ff8d48" stroke="none" stroke-width="1" />
<rect x="161.00" y="270.95" width="11.30" height="11.25" fill="#ff6200" stroke="none" stroke-width="1" />
<rect x="172.00" y="270.95" width="11.30" height="11.25" fill="#ff8d48" stroke="none" stroke-width="1" />
<text x="47.60" y="279.35" font-size="8.4" text-anchor="end" >Ifit1</text>
<rect x="51.00" y="281.90" width="11.30" height="11.25" fill="#117d96" stroke="none" stroke-width="1" />
<rect x="62.00" y="281.90" width="11.30" height="11.25" fill="#117d96" stroke="none" stroke-width="1" />
<rect x="73.00" y="281.90" width="11.30" height="11.25" fill="#117d96" stroke="none" stroke-width="1" />
<rect x="84.00" y="281.90" width="11.30" height="11.25" fill="#add3de" stroke="none" stroke-width="1" />
<rect x="95.00" y="281.90" width="11.30" height="11.25" fill="#add3de" stroke="none" stroke-width="1" />
<rect x="106.00" y="281.90" width="11.30" height="11.25" fill="#add3de" stroke="none" stroke-width="1" />
<rect x="117.00" y="281.90" width="11.30" height="11.25" fill="#147f98" stroke="none" stroke-width="1" />
<rect x="128.00" y="281.90" width="11.30" height="11.25" fill="#147f98" stroke="none" stroke-width="1" />
<rect x="139.00" y="281.90" width="11.30" height="11.25" fill="#288ba3" stroke="none" stroke-width="1" />
<rect x="150.00" y="281.90" width="11.30" height="11.25" fill="#ff8d48" stroke="none" stroke-width="1" />
<rect x="161.00" y="281.90" width="11.30" height="11.25" fill="#ff6200" stroke="none" stroke-width="1" />
<rect x="172.00" y="281.90" width="11.30" height="11.25" fill="#ff8d48" stroke="none" stroke-width="1" />
<text x="47.60" y="290.30" font-size="8.4" text-anchor="end" >Ifit3</text>
<rect x="51.00" y="292.85" width="11.30" height="11.25" fill="#117d96" stroke="none" stroke-width="1" />
<rect x="62.00" y="292.85" width="11.30" height="11.25" fill="#117d96" stroke="none" stroke-width="1" />
<rect x="73.00" y="292.85" width="11.30" height="11.25" fill="#117d96" stroke="none" stroke-width="1" />
<rect x="84.00" y="292.85" width="11.30" height="11.25" fill="#add3de" stroke="none" stroke-width="1" />
<rect x="95.00" y="292.85" width="11.30" height="11.25" fill="#add3de" stroke="none" stroke-width="1" />
<rect x="106.00" y="292.85" width="11.30" height="11.25" fill="#add3de" stroke="none" stroke-width="1" />
<rect x="117.00" y="292.85" width="11.30" height="11.25" fill="#147f98" stroke="none" stroke-width="1" />
<rect x="128.00" y="292.85" width="11.30" height="11.25" fill="#147f98" stroke="none" stroke-width="1" />
<rect x="139.00" y="292.85" width="11.30" height="11.25" fill="#288ba3" stroke="none" stroke-width="1" />
<rect x="150.00" y="292.85" width="11.30" height="11.25" fill="#ff8d48" stroke="none" stroke-width="1" />
<rect x="161.00" y="292.85" width="11.30" height="11.25" fill="#ff6200" stroke="none" stroke-width="1" />
<rect x="172.00" y="292.85" width="11.30" height="11.25" fill="#ff8d48" stroke="none" stroke-width="1" />
<text x="47.60" y="301.25" font-size="8.4" text-anchor="end" >Ifit2</text>
<rect x="51.00" y="303.80" width="11.30" height="11.25" fill="#288ba3" stroke="none" stroke-width="1" />
<rect x="62.00" y="303.80" width="11.30" height="11.25" fill="#288ba3" stroke="none" stroke-width="1" />
<rect x="73.00" y="303.80" width="11.30" height="11.25" fill="#288ba3" stroke="none" stroke-width="1" />
<rect x="84.00" y="303.80" width="11.30" height="11.25" fill="#459cb2" stroke="none" stroke-width="1" />
<rect x="95.00" y="303.80" width="11.30" height="11.25" fill="#76b6c8" stroke="none" stroke-width="1" />
<rect x="106.00" y="303.80" width="11.30" height="11.25" fill="#54a4ba" stroke="none" stroke-width="1" />
<rect x="117.00" y="303.80" width="11.30" height="11.25" fill="#147f98" stroke="none" stroke-width="1" />
<rect x="128.00" y="303.80" width="11.30" height="11.25" fill="#147f98" stroke="none" stroke-width="1" />
<rect x="139.00" y="303.80" width="11.30" height="11.25" fill="#147f98" stroke="none" stroke-width="1" />
<rect x="150.00" y="303.80" width="11.30" height="11.25" fill="#ffaa78" stroke="none" stroke-width="1" />
<rect x="161.00" y="303.80" width="11.30" height="11.25" fill="#ff6200" stroke="none" stroke-width="1" />
<rect x="172.00" y="303.80" width="11.30" height="11.25" fill="#ff8d48" stroke="none" stroke-width="1" />
<text x="47.60" y="312.20" font-size="8.4" text-anchor="end" >Ccl5</text>
<rect x="51.00" y="314.75" width="11.30" height="11.25" fill="#22879f" stroke="none" stroke-width="1" />
<rect x="62.00" y="314.75" width="11.30" height="11.25" fill="#117d96" stroke="none" stroke-width="1" />
<rect x="73.00" y="314.75" width="11.30" height="11.25" fill="#117d96" stroke="none" stroke-width="1" />
<rect x="84.00" y="314.75" width="11.30" height="11.25" fill="#288ba3" stroke="none" stroke-width="1" />
<rect x="95.00" y="314.75" width="11.30" height="11.25" fill="#3793aa" stroke="none" stroke-width="1" />
<rect x="106.00" y="314.75" width="11.30" height="11.25" fill="#117d96" stroke="none" stroke-width="1" />
<rect x="117.00" y="314.75" width="11.30" height="11.25" fill="#117d96" stroke="none" stroke-width="1" />
<rect x="128.00" y="314.75" width="11.30" height="11.25" fill="#117d96" stroke="none" stroke-width="1" />
<rect x="139.00" y="314.75" width="11.30" height="11.25" fill="#1a829b" stroke="none" stroke-width="1" />
<rect x="150.00" y="314.75" width="11.30" height="11.25" fill="#ffc29e" stroke="none" stroke-width="1" />
<rect x="161.00" y="314.75" width="11.30" height="11.25" fill="#ff6200" stroke="none" stroke-width="1" />
<rect x="172.00" y="314.75" width="11.30" height="11.25" fill="#ff9c60" stroke="none" stroke-width="1" />
<text x="47.60" y="323.15" font-size="8.4" text-anchor="end" >Isg20</text>
<rect x="51.00" y="327.30" width="11.30" height="11.25" fill="#1a829b" stroke="none" stroke-width="1" />
<rect x="62.00" y="327.30" width="11.30" height="11.25" fill="#1a829b" stroke="none" stroke-width="1" />
<rect x="73.00" y="327.30" width="11.30" height="11.25" fill="#1a829b" stroke="none" stroke-width="1" />
<rect x="84.00" y="327.30" width="11.30" height="11.25" fill="#69afc2" stroke="none" stroke-width="1" />
<rect x="95.00" y="327.30" width="11.30" height="11.25" fill="#84bdcd" stroke="none" stroke-width="1" />
<rect x="106.00" y="327.30" width="11.30" height="11.25" fill="#84bdcd" stroke="none" stroke-width="1" />
<rect x="117.00" y="327.30" width="11.30" height="11.25" fill="#1a829b" stroke="none" stroke-width="1" />
<rect x="128.00" y="327.30" width="11.30" height="11.25" fill="#1a829b" stroke="none" stroke-width="1" />
<rect x="139.00" y="327.30" width="11.30" height="11.25" fill="#1a829b" stroke="none" stroke-width="1" />
<rect x="150.00" y="327.30" width="11.30" height="11.25" fill="#ff9656" stroke="none" stroke-width="1" />
<rect x="161.00" y="327.30" width="11.30" height="11.25" fill="#ffffff" stroke="none" stroke-width="1" />
<rect x="172.00" y="327.30" width="11.30" height="11.25" fill="#ffddc9" stroke="none" stroke-width="1" />
<text x="47.60" y="335.70" font-size="7.8" text-anchor="end" >H2-Q6</text>
<rect x="51.00" y="338.25" width="11.30" height="11.25" fill="#1a829b" stroke="none" stroke-width="1" />
<rect x="62.00" y="338.25" width="11.30" height="11.25" fill="#22879f" stroke="none" stroke-width="1" />
<rect x="73.00" y="338.25" width="11.30" height="11.25" fill="#1a829b" stroke="none" stroke-width="1" />
<rect x="84.00" y="338.25" width="11.30" height="11.25" fill="#f8fbfc" stroke="none" stroke-width="1" />
<rect x="95.00" y="338.25" width="11.30" height="11.25" fill="#ffeee4" stroke="none" stroke-width="1" />
<rect x="106.00" y="338.25" width="11.30" height="11.25" fill="#fff1e9" stroke="none" stroke-width="1" />
<rect x="117.00" y="338.25" width="11.30" height="11.25" fill="#459cb2" stroke="none" stroke-width="1" />
<rect x="128.00" y="338.25" width="11.30" height="11.25" fill="#459cb2" stroke="none" stroke-width="1" />
<rect x="139.00" y="338.25" width="11.30" height="11.25" fill="#54a4ba" stroke="none" stroke-width="1" />
<rect x="150.00" y="338.25" width="11.30" height="11.25" fill="#ff7018" stroke="none" stroke-width="1" />
<rect x="161.00" y="338.25" width="11.30" height="11.25" fill="#ff6200" stroke="none" stroke-width="1" />
<rect x="172.00" y="338.25" width="11.30" height="11.25" fill="#ff9c60" stroke="none" stroke-width="1" />
<text x="47.60" y="346.65" font-size="7.8" text-anchor="end" >H2-K1</text>
<rect x="51.00" y="349.20" width="11.30" height="11.25" fill="#76b6c8" stroke="none" stroke-width="1" />
<rect x="62.00" y="349.20" width="11.30" height="11.25" fill="#288ba3" stroke="none" stroke-width="1" />
<rect x="73.00" y="349.20" width="11.30" height="11.25" fill="#2e8ea6" stroke="none" stroke-width="1" />
<rect x="84.00" y="349.20" width="11.30" height="11.25" fill="#54a4ba" stroke="none" stroke-width="1" />
<rect x="95.00" y="349.20" width="11.30" height="11.25" fill="#98c8d6" stroke="none" stroke-width="1" />
<rect x="106.00" y="349.20" width="11.30" height="11.25" fill="#3793aa" stroke="none" stroke-width="1" />
<rect x="117.00" y="349.20" width="11.30" height="11.25" fill="#288ba3" stroke="none" stroke-width="1" />
<rect x="128.00" y="349.20" width="11.30" height="11.25" fill="#2e8ea6" stroke="none" stroke-width="1" />
<rect x="139.00" y="349.20" width="11.30" height="11.25" fill="#1a829b" stroke="none" stroke-width="1" />
<rect x="150.00" y="349.20" width="11.30" height="11.25" fill="#ffd6be" stroke="none" stroke-width="1" />
<rect x="161.00" y="349.20" width="11.30" height="11.25" fill="#ff6200" stroke="none" stroke-width="1" />
<rect x="172.00" y="349.20" width="11.30" height="11.25" fill="#ffeee4" stroke="none" stroke-width="1" />
<text x="47.60" y="357.60" font-size="7.8" text-anchor="end" >H2-Oa</text>
<rect x="51.00" y="360.15" width="11.30" height="11.25" fill="#1a829b" stroke="none" stroke-width="1" />
<rect x="62.00" y="360.15" width="11.30" height="11.25" fill="#22879f" stroke="none" stroke-width="1" />
<rect x="73.00" y="360.15" width="11.30" height="11.25" fill="#1a829b" stroke="none" stroke-width="1" />
<rect x="84.00" y="360.15" width="11.30" height="11.25" fill="#add3de" stroke="none" stroke-width="1" />
<rect x="95.00" y="360.15" width="11.30" height="11.25" fill="#ddedf1" stroke="none" stroke-width="1" />
<rect x="106.00" y="360.15" width="11.30" height="11.25" fill="#c8e2e9" stroke="none" stroke-width="1" />
<rect x="117.00" y="360.15" width="11.30" height="11.25" fill="#2e8ea6" stroke="none" stroke-width="1" />
<rect x="128.00" y="360.15" width="11.30" height="11.25" fill="#2e8ea6" stroke="none" stroke-width="1" />
<rect x="139.00" y="360.15" width="11.30" height="11.25" fill="#3793aa" stroke="none" stroke-width="1" />
<rect x="150.00" y="360.15" width="11.30" height="11.25" fill="#ff8d48" stroke="none" stroke-width="1" />
<rect x="161.00" y="360.15" width="11.30" height="11.25" fill="#ff6200" stroke="none" stroke-width="1" />
<rect x="172.00" y="360.15" width="11.30" height="11.25" fill="#ffccae" stroke="none" stroke-width="1" />
<text x="47.60" y="368.55" font-size="7.8" text-anchor="end" >H2-Q4</text>
<rect x="51.00" y="371.10" width="11.30" height="11.25" fill="#1a829b" stroke="none" stroke-width="1" />
<rect x="62.00" y="371.10" width="11.30" height="11.25" fill="#1a829b" stroke="none" stroke-width="1" />
<rect x="73.00" y="371.10" width="11.30" height="11.25" fill="#1a829b" stroke="none" stroke-width="1" />
<rect x="84.00" y="371.10" width="11.30" height="11.25" fill="#76b6c8" stroke="none" stroke-width="1" />
<rect x="95.00" y="371.10" width="11.30" height="11.25" fill="#98c8d6" stroke="none" stroke-width="1" />
<rect x="106.00" y="371.10" width="11.30" height="11.25" fill="#76b6c8" stroke="none" stroke-width="1" />
<rect x="117.00" y="371.10" width="11.30" height="11.25" fill="#1a829b" stroke="none" stroke-width="1" />
<rect x="128.00" y="371.10" width="11.30" height="11.25" fill="#1a829b" stroke="none" stroke-width="1" />
<rect x="139.00" y="371.10" width="11.30" height="11.25" fill="#22879f" stroke="none" stroke-width="1" />
<rect x="150.00" y="371.10" width="11.30" height="11.25" fill="#ff8d48" stroke="none" stroke-width="1" />
<rect x="161.00" y="371.10" width="11.30" height="11.25" fill="#ff6200" stroke="none" stroke-width="1" />
<rect x="172.00" y="371.10" width="11.30" height="11.25" fill="#ffe4d4" stroke="none" stroke-width="1" />
<text x="47.60" y="379.50" font-size="7.8" text-anchor="end" >H2-Q7</text>
<rect x="51.00" y="382.05" width="11.30" height="11.25" fill="#1a829b" stroke="none" stroke-width="1" />
<rect x="62.00" y="382.05" width="11.30" height="11.25" fill="#1a829b" stroke="none" stroke-width="1" />
<rect x="73.00" y="382.05" width="11.30" height="11.25" fill="#1a829b" stroke="none" stroke-width="1" />
<rect x="84.00" y="382.05" width="11.30" height="11.25" fill="#add3de" stroke="none" stroke-width="1" />
<rect x="95.00" y="382.05" width="11.30" height="11.25" fill="#ddedf1" stroke="none" stroke-width="1" />
<rect x="106.00" y="382.05" width="11.30" height="11.25" fill="#c8e2e9" stroke="none" stroke-width="1" />
<rect x="117.00" y="382.05" width="11.30" height="11.25" fill="#2e8ea6" stroke="none" stroke-width="1" />
<rect x="128.00" y="382.05" width="11.30" height="11.25" fill="#2e8ea6" stroke="none" stroke-width="1" />
<rect x="139.00" y="382.05" width="11.30" height="11.25" fill="#3793aa" stroke="none" stroke-width="1" />
<rect x="150.00" y="382.05" width="11.30" height="11.25" fill="#ff7926" stroke="none" stroke-width="1" />
<rect x="161.00" y="382.05" width="11.30" height="11.25" fill="#ff7018" stroke="none" stroke-width="1" />
<rect x="172.00" y="382.05" width="11.30" height="11.25" fill="#ff9c60" stroke="none" stroke-width="1" />
<text x="47.60" y="390.45" font-size="7.8" text-anchor="end" >H2-T22</text>
<rect x="51.00" y="394.70" width="11.30" height="11.25" fill="#ffe4d4" stroke="none" stroke-width="1" />
<rect x="62.00" y="394.70" width="11.30" height="11.25" fill="#fff5ef" stroke="none" stroke-width="1" />
<rect x="73.00" y="394.70" width="11.30" height="11.25" fill="#ddedf1" stroke="none" stroke-width="1" />
<rect x="84.00" y="394.70" width="11.30" height="11.25" fill="#bbdbe3" stroke="none" stroke-width="1" />
<rect x="95.00" y="394.70" width="11.30" height="11.25" fill="#add3de" stroke="none" stroke-width="1" />
<rect x="106.00" y="394.70" width="11.30" height="11.25" fill="#d6e9ee" stroke="none" stroke-width="1" />
<rect x="117.00" y="394.70" width="11.30" height="11.25" fill="#76b6c8" stroke="none" stroke-width="1" />
<rect x="128.00" y="394.70" width="11.30" height="11.25" fill="#288ba3" stroke="none" stroke-width="1" />
<rect x="139.00" y="394.70" width="11.30" height="11.25" fill="#1a829b" stroke="none" stroke-width="1" />
<rect x="150.00" y="394.70" width="11.30" height="11.25" fill="#ff6b0e" stroke="none" stroke-width="1" />
<rect x="161.00" y="394.70" width="11.30" height="11.25" fill="#ff7018" stroke="none" stroke-width="1" />
<rect x="172.00" y="394.70" width="11.30" height="11.25" fill="#ffe4d4" stroke="none" stroke-width="1" />
<text x="47.60" y="403.10" font-size="8.7" text-anchor="end" >Cd80</text>
<rect x="51.00" y="405.65" width="11.30" height="11.25" fill="#459cb2" stroke="none" stroke-width="1" />
<rect x="62.00" y="405.65" width="11.30" height="11.25" fill="#459cb2" stroke="none" stroke-width="1" />
<rect x="73.00" y="405.65" width="11.30" height="11.25" fill="#459cb2" stroke="none" stroke-width="1" />
<rect x="84.00" y="405.65" width="11.30" height="11.25" fill="#76b6c8" stroke="none" stroke-width="1" />
<rect x="95.00" y="405.65" width="11.30" height="11.25" fill="#c8e2e9" stroke="none" stroke-width="1" />
<rect x="106.00" y="405.65" width="11.30" height="11.25" fill="#98c8d6" stroke="none" stroke-width="1" />
<rect x="117.00" y="405.65" width="11.30" height="11.25" fill="#147f98" stroke="none" stroke-width="1" />
<rect x="128.00" y="405.65" width="11.30" height="11.25" fill="#147f98" stroke="none" stroke-width="1" />
<rect x="139.00" y="405.65" width="11.30" height="11.25" fill="#147f98" stroke="none" stroke-width="1" />
<rect x="150.00" y="405.65" width="11.30" height="11.25" fill="#ff9c60" stroke="none" stroke-width="1" />
<rect x="161.00" y="405.65" width="11.30" height="11.25" fill="#ff6200" stroke="none" stroke-width="1" />
<rect x="172.00" y="405.65" width="11.30" height="11.25" fill="#ffeee4" stroke="none" stroke-width="1" />
<text x="47.60" y="414.05" font-size="8.7" text-anchor="end" >Cd86</text>
<rect x="51.00" y="416.60" width="11.30" height="11.25" fill="#3793aa" stroke="none" stroke-width="1" />
<rect x="62.00" y="416.60" width="11.30" height="11.25" fill="#22879f" stroke="none" stroke-width="1" />
<rect x="73.00" y="416.60" width="11.30" height="11.25" fill="#459cb2" stroke="none" stroke-width="1" />
<rect x="84.00" y="416.60" width="11.30" height="11.25" fill="#4b9fb5" stroke="none" stroke-width="1" />
<rect x="95.00" y="416.60" width="11.30" height="11.25" fill="#54a4ba" stroke="none" stroke-width="1" />
<rect x="106.00" y="416.60" width="11.30" height="11.25" fill="#4b9fb5" stroke="none" stroke-width="1" />
<rect x="117.00" y="416.60" width="11.30" height="11.25" fill="#288ba3" stroke="none" stroke-width="1" />
<rect x="128.00" y="416.60" width="11.30" height="11.25" fill="#1a829b" stroke="none" stroke-width="1" />
<rect x="139.00" y="416.60" width="11.30" height="11.25" fill="#22879f" stroke="none" stroke-width="1" />
<rect x="150.00" y="416.60" width="11.30" height="11.25" fill="#ff9c60" stroke="none" stroke-width="1" />
<rect x="161.00" y="416.60" width="11.30" height="11.25" fill="#ff6200" stroke="none" stroke-width="1" />
<rect x="172.00" y="416.60" width="11.30" height="11.25" fill="#ffccae" stroke="none" stroke-width="1" />
<text x="47.60" y="425.00" font-size="8.7" text-anchor="end" >Cd40</text>
<text x="118.20" y="156.50" font-size="9" text-anchor="middle" >NP</text>
<line x1="55.50" y1="159.20" x2="179.60" y2="159.20" stroke="#333" stroke-width="1" />
<text x="54.00" y="169.30" font-size="8.5" text-anchor="end" >siPCSK9</text>
<text x="55.50" y="181.00" font-size="8.5" text-anchor="end" >cGAMP</text>
<text x="68.60" y="169.60" font-size="10" text-anchor="middle" >-</text>
<text x="101.60" y="169.60" font-size="10" text-anchor="middle" >-</text>
<text x="135.20" y="169.60" font-size="10" text-anchor="middle" >+</text>
<text x="167.30" y="169.60" font-size="10" text-anchor="middle" >+</text>
<text x="68.60" y="181.60" font-size="10" text-anchor="middle" >-</text>
<text x="101.60" y="181.60" font-size="10" text-anchor="middle" >+</text>
<text x="135.20" y="181.60" font-size="10" text-anchor="middle" >-</text>
<text x="167.30" y="181.60" font-size="10" text-anchor="middle" >+</text>
<line x1="51.30" y1="183.30" x2="83.70" y2="183.30" stroke="#555" stroke-width="1.6" />
<line x1="84.30" y1="183.30" x2="116.70" y2="183.30" stroke="#f07a2a" stroke-width="1.6" />
<line x1="117.30" y1="183.30" x2="149.70" y2="183.30" stroke="#1a8aa0" stroke-width="1.6" />
<line x1="150.30" y1="183.30" x2="182.70" y2="183.30" stroke="#c03ad0" stroke-width="1.6" />
<text x="56.50" y="193.20" font-size="8.6" text-anchor="middle" >1</text>
<text x="67.50" y="193.20" font-size="8.6" text-anchor="middle" >2</text>
<text x="78.50" y="193.20" font-size="8.6" text-anchor="middle" >3</text>
<text x="89.50" y="193.20" font-size="8.6" text-anchor="middle" >1</text>
<text x="100.50" y="193.20" font-size="8.6" text-anchor="middle" >2</text>
<text x="111.50" y="193.20" font-size="8.6" text-anchor="middle" >3</text>
<text x="122.50" y="193.20" font-size="8.6" text-anchor="middle" >1</text>
<text x="133.50" y="193.20" font-size="8.6" text-anchor="middle" >2</text>
<text x="144.50" y="193.20" font-size="8.6" text-anchor="middle" >3</text>
<text x="155.50" y="193.20" font-size="8.6" text-anchor="middle" >1</text>
<text x="166.50" y="193.20" font-size="8.6" text-anchor="middle" >2</text>
<text x="177.50" y="193.20" font-size="8.6" text-anchor="middle" >3</text>
<line x1="22.60" y1="194.30" x2="22.60" y2="321.00" stroke="#d6a640" stroke-width="1.5" />
<line x1="22.30" y1="326.70" x2="22.30" y2="388.30" stroke="#5b7fd6" stroke-width="1.5" />
<line x1="22.30" y1="391.50" x2="22.30" y2="425.40" stroke="#2aa898" stroke-width="1.5" />
<text x="6.00" y="252.00" font-size="8.7" text-anchor="middle" transform="rotate(-90 6.00 252.00)" >Type I Interferon-stimulated</text>
<text x="16.30" y="251.90" font-size="8.6" text-anchor="middle" transform="rotate(-90 16.30 251.90)" >genes (ISGs)</text>
<text x="6.00" y="350.60" font-size="8.6" text-anchor="middle" transform="rotate(-90 6.00 350.60)" >MHC I</text>
<text x="16.10" y="350.30" font-size="8.6" text-anchor="middle" transform="rotate(-90 16.10 350.30)" >Complex</text>
<text x="7.00" y="409.20" font-size="8.85" text-anchor="middle" transform="rotate(-90 7.00 409.20)" >Costimulatory</text>
<text x="18.00" y="408.60" font-size="8.6" text-anchor="middle" transform="rotate(-90 18.00 408.60)" >signal</text>
<defs><linearGradient id="cb" x1="0" x2="1" y1="0" y2="0">
<stop offset="0" stop-color="#0b7a93"/><stop offset="0.25" stop-color="#54a4ba"/><stop offset="0.5" stop-color="#ffffff"/>
<stop offset="0.75" stop-color="#ffaa78"/><stop offset="1" stop-color="#ff6200"/></linearGradient></defs>
<rect x="50.40" y="431.80" width="132.50" height="9.20" fill="url(#cb)" stroke="#444" stroke-width="0.5" />
<text x="50.40" y="454.60" font-size="8.5" text-anchor="middle" font-family='"Liberation Serif", serif' >0</text>
<line x1="76.90" y1="431.80" x2="76.90" y2="433.00" stroke="#333" stroke-width="0.6" />
<line x1="76.90" y1="439.80" x2="76.90" y2="441.00" stroke="#333" stroke-width="0.6" />
<text x="76.90" y="454.60" font-size="8.5" text-anchor="middle" font-family='"Liberation Serif", serif' >0.2</text>
<line x1="103.40" y1="431.80" x2="103.40" y2="433.00" stroke="#333" stroke-width="0.6" />
<line x1="103.40" y1="439.80" x2="103.40" y2="441.00" stroke="#333" stroke-width="0.6" />
<text x="103.40" y="454.60" font-size="8.5" text-anchor="middle" font-family='"Liberation Serif", serif' >0.4</text>
<line x1="129.90" y1="431.80" x2="129.90" y2="433.00" stroke="#333" stroke-width="0.6" />
<line x1="129.90" y1="439.80" x2="129.90" y2="441.00" stroke="#333" stroke-width="0.6" />
<text x="129.90" y="454.60" font-size="8.5" text-anchor="middle" font-family='"Liberation Serif", serif' >0.6</text>
<line x1="156.40" y1="431.80" x2="156.40" y2="433.00" stroke="#333" stroke-width="0.6" />
<line x1="156.40" y1="439.80" x2="156.40" y2="441.00" stroke="#333" stroke-width="0.6" />
<text x="156.40" y="454.60" font-size="8.5" text-anchor="middle" font-family='"Liberation Serif", serif' >0.8</text>
<text x="182.90" y="454.60" font-size="8.5" text-anchor="middle" font-family='"Liberation Serif", serif' >1.0</text>
<text x="118.00" y="466.00" font-size="8.5" text-anchor="middle" >nFPKM</text>
<text x="252.00" y="205.30" font-size="9" text-anchor="middle" >MC38</text>
<text x="251.50" y="214.30" font-size="9" text-anchor="middle" >cells</text>
<text x="290.00" y="203.00" font-size="9" text-anchor="middle" >Indicated</text>
<text x="290.50" y="213.50" font-size="9" text-anchor="middle" >NP (i.v)</text>
<line x1="251.00" y1="217.50" x2="251.00" y2="231.00" stroke="#e8404a" stroke-width="0.9" />
<path d="M248.9 229.5 L253.1 229.5 L251 233.3 Z" fill="#e8404a" stroke="none" stroke-width="1" />
<line x1="284.30" y1="217.50" x2="284.30" y2="231.00" stroke="#3aa0f0" stroke-width="0.9" />
<path d="M282.2 229.5 L286.4 229.5 L284.3 233.3 Z" fill="#3aa0f0" stroke="none" stroke-width="1" />
<line x1="233.00" y1="238.20" x2="300.00" y2="238.20" stroke="#555" stroke-width="1.1" />
<line x1="233.20" y1="238.20" x2="233.20" y2="242.00" stroke="#555" stroke-width="1.1" />
<path d="M304 238.2 L298.5 235.6 L298.5 240.8 Z" fill="#111" stroke="none" stroke-width="1" />
<circle cx="251.00" cy="238.20" r="3.60" fill="#f7b8bd" stroke="#e8404a" stroke-width="0.9" />
<circle cx="284.30" cy="238.20" r="3.80" fill="#b8dcf7" stroke="#3aa0f0" stroke-width="0.9" />
<text x="235.00" y="255.00" font-size="9" text-anchor="middle" >Day</text>
<text x="253.30" y="255.00" font-size="9" text-anchor="middle" >0</text>
<text x="285.80" y="255.00" font-size="9" text-anchor="middle" >8</text>
<text x="272.40" y="265.30" font-size="9" text-anchor="middle" >C57BL/6</text>
<line x1="367.90" y1="186.50" x2="367.90" y2="273.90" stroke="#999" stroke-width="1.5" />
<line x1="367.40" y1="272.40" x2="454.50" y2="272.40" stroke="#222" stroke-width="1" />
<line x1="365.60" y1="186.50" x2="367.90" y2="186.50" stroke="#999" stroke-width="1.5" />
<text x="363.50" y="190.10" font-size="10" text-anchor="end" >2000</text>
<line x1="365.60" y1="229.45" x2="367.90" y2="229.45" stroke="#999" stroke-width="1.5" />
<text x="363.50" y="233.05" font-size="10" text-anchor="end" >1000</text>
<line x1="365.60" y1="272.40" x2="367.90" y2="272.40" stroke="#999" stroke-width="1.5" />
<text x="363.50" y="276.00" font-size="10" text-anchor="end" >0</text>
<line x1="366.40" y1="250.92" x2="367.90" y2="250.92" stroke="#999" stroke-width="1.5" />
<line x1="366.40" y1="207.97" x2="367.90" y2="207.97" stroke="#999" stroke-width="1.5" />
<line x1="367.90" y1="272.40" x2="367.90" y2="275.00" stroke="#222" stroke-width="1" />
<text x="367.90" y="285.80" font-size="10" text-anchor="middle" >0</text>
<line x1="389.55" y1="272.40" x2="389.55" y2="275.00" stroke="#222" stroke-width="1" />
<text x="389.55" y="285.80" font-size="10" text-anchor="middle" >10</text>
<line x1="411.20" y1="272.40" x2="411.20" y2="275.00" stroke="#222" stroke-width="1" />
<text x="411.20" y="285.80" font-size="10" text-anchor="middle" >20</text>
<line x1="432.85" y1="272.40" x2="432.85" y2="275.00" stroke="#222" stroke-width="1" />
<text x="432.85" y="285.80" font-size="10" text-anchor="middle" >30</text>
<line x1="454.50" y1="272.40" x2="454.50" y2="275.00" stroke="#222" stroke-width="1" />
<text x="454.50" y="285.80" font-size="10" text-anchor="middle" >40</text>
<text x="411.00" y="297.60" font-size="10" text-anchor="middle" >Days</text>
<text x="338.50" y="227.20" font-size="10" text-anchor="middle" transform="rotate(-90 338.50 227.20)" >Tumor volume (mm<tspan font-size="6.5" dy="-3.80">3</tspan><tspan dy="3.8">)</tspan></text>
<polyline points="367.90,272.40 385.22,267.25 389.55,262.52 393.88,256.94 400.38,248.78 406.87,233.74 411.20,216.56 415.53,205.83" fill="none" stroke="#111" stroke-width="1.4" stroke-linejoin="round" />
<line x1="393.88" y1="255.44" x2="393.88" y2="256.94" stroke="#111" stroke-width="0.8" />
<line x1="392.58" y1="255.44" x2="395.18" y2="255.44" stroke="#111" stroke-width="0.8" />
<line x1="400.38" y1="246.98" x2="400.38" y2="248.78" stroke="#111" stroke-width="0.8" />
<line x1="399.07" y1="246.98" x2="401.68" y2="246.98" stroke="#111" stroke-width="0.8" />
<line x1="406.87" y1="231.24" x2="406.87" y2="233.74" stroke="#111" stroke-width="0.8" />
<line x1="405.57" y1="231.24" x2="408.17" y2="231.24" stroke="#111" stroke-width="0.8" />
<line x1="411.20" y1="208.56" x2="411.20" y2="216.56" stroke="#111" stroke-width="0.8" />
<line x1="409.90" y1="208.56" x2="412.50" y2="208.56" stroke="#111" stroke-width="0.8" />
<line x1="415.53" y1="198.83" x2="415.53" y2="205.83" stroke="#111" stroke-width="0.8" />
<line x1="414.23" y1="198.83" x2="416.83" y2="198.83" stroke="#111" stroke-width="0.8" />
<circle cx="367.90" cy="272.40" r="1.45" fill="#111" stroke="none" stroke-width="1" />
<circle cx="385.22" cy="267.25" r="1.45" fill="#111" stroke="none" stroke-width="1" />
<circle cx="389.55" cy="262.52" r="1.45" fill="#111" stroke="none" stroke-width="1" />
<circle cx="393.88" cy="256.94" r="1.45" fill="#111" stroke="none" stroke-width="1" />
<circle cx="400.38" cy="248.78" r="1.45" fill="#111" stroke="none" stroke-width="1" />
<circle cx="406.87" cy="233.74" r="1.45" fill="#111" stroke="none" stroke-width="1" />
<circle cx="411.20" cy="216.56" r="1.45" fill="#111" stroke="none" stroke-width="1" />
<circle cx="415.53" cy="205.83" r="1.45" fill="#111" stroke="none" stroke-width="1" />
<polyline points="367.90,272.40 385.22,267.68 389.55,264.63 393.88,261.10 400.38,251.57 406.87,240.62 411.20,226.31 415.53,212.01 419.86,203.12" fill="none" stroke="#27a3ec" stroke-width="1.4" stroke-linejoin="round" />
<line x1="393.88" y1="260.10" x2="393.88" y2="261.10" stroke="#27a3ec" stroke-width="0.8" />
<line x1="392.58" y1="260.10" x2="395.18" y2="260.10" stroke="#27a3ec" stroke-width="0.8" />
<line x1="400.38" y1="250.07" x2="400.38" y2="251.57" stroke="#27a3ec" stroke-width="0.8" />
<line x1="399.07" y1="250.07" x2="401.68" y2="250.07" stroke="#27a3ec" stroke-width="0.8" />
<line x1="406.87" y1="238.62" x2="406.87" y2="240.62" stroke="#27a3ec" stroke-width="0.8" />
<line x1="405.57" y1="238.62" x2="408.17" y2="238.62" stroke="#27a3ec" stroke-width="0.8" />
<line x1="411.20" y1="223.31" x2="411.20" y2="226.31" stroke="#27a3ec" stroke-width="0.8" />
<line x1="409.90" y1="223.31" x2="412.50" y2="223.31" stroke="#27a3ec" stroke-width="0.8" />
<line x1="415.53" y1="208.01" x2="415.53" y2="212.01" stroke="#27a3ec" stroke-width="0.8" />
<line x1="414.23" y1="208.01" x2="416.83" y2="208.01" stroke="#27a3ec" stroke-width="0.8" />
<line x1="419.86" y1="194.12" x2="419.86" y2="203.12" stroke="#27a3ec" stroke-width="0.8" />
<line x1="418.56" y1="194.12" x2="421.16" y2="194.12" stroke="#27a3ec" stroke-width="0.8" />
<circle cx="367.90" cy="272.40" r="1.45" fill="#27a3ec" stroke="none" stroke-width="1" />
<circle cx="385.22" cy="267.68" r="1.45" fill="#27a3ec" stroke="none" stroke-width="1" />
<circle cx="389.55" cy="264.63" r="1.45" fill="#27a3ec" stroke="none" stroke-width="1" />
<circle cx="393.88" cy="261.10" r="1.45" fill="#27a3ec" stroke="none" stroke-width="1" />
<circle cx="400.38" cy="251.57" r="1.45" fill="#27a3ec" stroke="none" stroke-width="1" />
<circle cx="406.87" cy="240.62" r="1.45" fill="#27a3ec" stroke="none" stroke-width="1" />
<circle cx="411.20" cy="226.31" r="1.45" fill="#27a3ec" stroke="none" stroke-width="1" />
<circle cx="415.53" cy="212.01" r="1.45" fill="#27a3ec" stroke="none" stroke-width="1" />
<circle cx="419.86" cy="203.12" r="1.45" fill="#27a3ec" stroke="none" stroke-width="1" />
<polyline points="367.90,272.40 385.22,268.19 389.55,266.60 393.88,264.58 400.38,259.09 406.87,250.19 411.20,239.33 415.53,229.02 419.86,205.83" fill="none" stroke="#f5822a" stroke-width="1.4" stroke-linejoin="round" />
<line x1="393.88" y1="263.58" x2="393.88" y2="264.58" stroke="#f5822a" stroke-width="0.8" />
<line x1="392.58" y1="263.58" x2="395.18" y2="263.58" stroke="#f5822a" stroke-width="0.8" />
<line x1="400.38" y1="257.59" x2="400.38" y2="259.09" stroke="#f5822a" stroke-width="0.8" />
<line x1="399.07" y1="257.59" x2="401.68" y2="257.59" stroke="#f5822a" stroke-width="0.8" />
<line x1="406.87" y1="248.19" x2="406.87" y2="250.19" stroke="#f5822a" stroke-width="0.8" />
<line x1="405.57" y1="248.19" x2="408.17" y2="248.19" stroke="#f5822a" stroke-width="0.8" />
<line x1="411.20" y1="236.33" x2="411.20" y2="239.33" stroke="#f5822a" stroke-width="0.8" />
<line x1="409.90" y1="236.33" x2="412.50" y2="236.33" stroke="#f5822a" stroke-width="0.8" />
<line x1="415.53" y1="225.02" x2="415.53" y2="229.02" stroke="#f5822a" stroke-width="0.8" />
<line x1="414.23" y1="225.02" x2="416.83" y2="225.02" stroke="#f5822a" stroke-width="0.8" />
<line x1="419.86" y1="201.83" x2="419.86" y2="205.83" stroke="#f5822a" stroke-width="0.8" />
<line x1="418.56" y1="201.83" x2="421.16" y2="201.83" stroke="#f5822a" stroke-width="0.8" />
<path d="M367.90 270.66 L369.50 273.56 L366.30 273.56 Z" fill="#f5822a" stroke="none" stroke-width="1" />
<path d="M385.22 266.45 L386.81 269.35 L383.62 269.35 Z" fill="#f5822a" stroke="none" stroke-width="1" />
<path d="M389.55 264.86 L391.14 267.76 L387.95 267.76 Z" fill="#f5822a" stroke="none" stroke-width="1" />
<path d="M393.88 262.84 L395.48 265.74 L392.28 265.74 Z" fill="#f5822a" stroke="none" stroke-width="1" />
<path d="M400.38 257.35 L401.97 260.25 L398.78 260.25 Z" fill="#f5822a" stroke="none" stroke-width="1" />
<path d="M406.87 248.45 L408.47 251.35 L405.27 251.35 Z" fill="#f5822a" stroke="none" stroke-width="1" />
<path d="M411.20 237.59 L412.80 240.49 L409.60 240.49 Z" fill="#f5822a" stroke="none" stroke-width="1" />
<path d="M415.53 227.28 L417.12 230.18 L413.93 230.18 Z" fill="#f5822a" stroke="none" stroke-width="1" />
<path d="M419.86 204.09 L421.45 206.99 L418.26 206.99 Z" fill="#f5822a" stroke="none" stroke-width="1" />
<polyline points="367.90,272.40 385.22,267.25 389.55,268.96 393.88,270.25 400.38,271.54 406.87,272.40 411.20,272.40 415.53,272.40 419.86,272.40 424.19,272.40 428.52,272.40 432.85,272.40 437.18,272.40 441.51,272.40 445.84,272.40 450.17,272.40" fill="none" stroke="#c844d4" stroke-width="1.4" stroke-linejoin="round" />
<circle cx="367.90" cy="272.40" r="1.45" fill="#c844d4" stroke="none" stroke-width="1" />
<circle cx="385.22" cy="267.25" r="1.45" fill="#c844d4" stroke="none" stroke-width="1" />
<circle cx="389.55" cy="268.96" r="1.45" fill="#c844d4" stroke="none" stroke-width="1" />
<circle cx="393.88" cy="270.25" r="1.45" fill="#c844d4" stroke="none" stroke-width="1" />
<circle cx="400.38" cy="271.54" r="1.45" fill="#c844d4" stroke="none" stroke-width="1" />
<circle cx="406.87" cy="272.40" r="1.45" fill="#c844d4" stroke="none" stroke-width="1" />
<circle cx="411.20" cy="272.40" r="1.45" fill="#c844d4" stroke="none" stroke-width="1" />
<circle cx="415.53" cy="272.40" r="1.45" fill="#c844d4" stroke="none" stroke-width="1" />
<circle cx="419.86" cy="272.40" r="1.45" fill="#c844d4" stroke="none" stroke-width="1" />
<circle cx="424.19" cy="272.40" r="1.45" fill="#c844d4" stroke="none" stroke-width="1" />
<circle cx="428.52" cy="272.40" r="1.45" fill="#c844d4" stroke="none" stroke-width="1" />
<circle cx="432.85" cy="272.40" r="1.45" fill="#c844d4" stroke="none" stroke-width="1" />
<circle cx="437.18" cy="272.40" r="1.45" fill="#c844d4" stroke="none" stroke-width="1" />
<circle cx="441.51" cy="272.40" r="1.45" fill="#c844d4" stroke="none" stroke-width="1" />
<circle cx="445.84" cy="272.40" r="1.45" fill="#c844d4" stroke="none" stroke-width="1" />
<circle cx="450.17" cy="272.40" r="1.45" fill="#c844d4" stroke="none" stroke-width="1" />
<text x="444.30" y="222.70" font-size="7.9" text-anchor="middle" transform="rotate(-90 444.30 222.70)" >p &lt; 0.0001</text>
<path d="M452.3 205.5 L449.4 205.5 L449.4 241 L452.8 241" fill="none" stroke="#222" stroke-width="0.9" />
<line x1="452.80" y1="222.60" x2="452.80" y2="258.40" stroke="#888" stroke-width="1.3" />
<line x1="452.80" y1="223.20" x2="455.00" y2="223.20" stroke="#222" stroke-width="0.9" />
<line x1="454.70" y1="205.70" x2="462.80" y2="205.70" stroke="#c844d4" stroke-width="1.2" />
<circle cx="458.80" cy="205.70" r="1.30" fill="#c844d4" stroke="none" stroke-width="1" />
<line x1="454.70" y1="223.40" x2="462.80" y2="223.40" stroke="#111" stroke-width="1.2" />
<circle cx="458.80" cy="223.40" r="1.30" fill="#111" stroke="none" stroke-width="1" />
<line x1="454.70" y1="241.00" x2="462.80" y2="241.00" stroke="#f5822a" stroke-width="1.2" />
<circle cx="458.80" cy="241.00" r="1.30" fill="#f5822a" stroke="none" stroke-width="1" />
<line x1="454.70" y1="258.70" x2="462.80" y2="258.70" stroke="#27a3ec" stroke-width="1.2" />
<circle cx="458.80" cy="258.70" r="1.30" fill="#27a3ec" stroke="none" stroke-width="1" />
<line x1="510.90" y1="189.60" x2="510.90" y2="274.90" stroke="#5a5a5a" stroke-width="1.4" />
<line x1="510.40" y1="273.40" x2="595.18" y2="273.40" stroke="#5a5a5a" stroke-width="1.4" />
<line x1="508.60" y1="189.60" x2="510.90" y2="189.60" stroke="#5a5a5a" stroke-width="1.4" />
<text x="507.60" y="193.20" font-size="10" text-anchor="end" >120</text>
<line x1="508.60" y1="231.50" x2="510.90" y2="231.50" stroke="#5a5a5a" stroke-width="1.4" />
<text x="507.60" y="235.10" font-size="10" text-anchor="end" >100</text>
<line x1="508.60" y1="273.40" x2="510.90" y2="273.40" stroke="#5a5a5a" stroke-width="1.4" />
<text x="507.60" y="277.00" font-size="10" text-anchor="end" >80</text>
<line x1="509.40" y1="252.45" x2="510.90" y2="252.45" stroke="#5a5a5a" stroke-width="1.4" />
<line x1="509.40" y1="210.55" x2="510.90" y2="210.55" stroke="#5a5a5a" stroke-width="1.4" />
<line x1="522.94" y1="273.40" x2="522.94" y2="276.00" stroke="#5a5a5a" stroke-width="1.4" />
<text x="522.94" y="287.60" font-size="10" text-anchor="middle" >10</text>
<line x1="553.04" y1="273.40" x2="553.04" y2="276.00" stroke="#5a5a5a" stroke-width="1.4" />
<text x="553.04" y="287.60" font-size="10" text-anchor="middle" >15</text>
<line x1="583.14" y1="273.40" x2="583.14" y2="276.00" stroke="#5a5a5a" stroke-width="1.4" />
<text x="583.14" y="287.60" font-size="10" text-anchor="middle" >20</text>
<text x="552.50" y="297.20" font-size="10" text-anchor="middle" >Days</text>
<text x="484.90" y="229.20" font-size="10" text-anchor="middle" transform="rotate(-90 484.90 229.20)" >Body weight change (%)</text>
<polyline points="510.90,231.50 516.92,231.29 522.94,230.24 534.98,227.52 553.04,222.07 571.10,216.21 583.14,213.06 595.18,211.60" fill="none" stroke="#c844d4" stroke-width="1.3" stroke-linejoin="round" />
<circle cx="510.90" cy="231.50" r="1.30" fill="#c844d4" stroke="none" stroke-width="1" />
<circle cx="516.92" cy="231.29" r="1.30" fill="#c844d4" stroke="none" stroke-width="1" />
<circle cx="522.94" cy="230.24" r="1.30" fill="#c844d4" stroke="none" stroke-width="1" />
<circle cx="534.98" cy="227.52" r="1.30" fill="#c844d4" stroke="none" stroke-width="1" />
<circle cx="553.04" cy="222.07" r="1.30" fill="#c844d4" stroke="none" stroke-width="1" />
<circle cx="571.10" cy="216.21" r="1.30" fill="#c844d4" stroke="none" stroke-width="1" />
<circle cx="583.14" cy="213.06" r="1.30" fill="#c844d4" stroke="none" stroke-width="1" />
<circle cx="595.18" cy="211.60" r="1.30" fill="#c844d4" stroke="none" stroke-width="1" />
<polyline points="510.90,231.50 516.92,231.08 522.94,230.45 534.98,229.82 553.04,223.12 571.10,217.25 583.14,213.69 595.18,214.11" fill="none" stroke="#27a3ec" stroke-width="1.3" stroke-linejoin="round" />
<line x1="534.98" y1="228.32" x2="534.98" y2="229.82" stroke="#27a3ec" stroke-width="0.8" />
<line x1="533.68" y1="228.32" x2="536.28" y2="228.32" stroke="#27a3ec" stroke-width="0.8" />
<line x1="553.04" y1="222.12" x2="553.04" y2="223.12" stroke="#27a3ec" stroke-width="0.8" />
<line x1="551.74" y1="222.12" x2="554.34" y2="222.12" stroke="#27a3ec" stroke-width="0.8" />
<line x1="571.10" y1="216.25" x2="571.10" y2="217.25" stroke="#27a3ec" stroke-width="0.8" />
<line x1="569.80" y1="216.25" x2="572.40" y2="216.25" stroke="#27a3ec" stroke-width="0.8" />
<line x1="583.14" y1="212.69" x2="583.14" y2="213.69" stroke="#27a3ec" stroke-width="0.8" />
<line x1="581.84" y1="212.69" x2="584.44" y2="212.69" stroke="#27a3ec" stroke-width="0.8" />
<line x1="595.18" y1="212.31" x2="595.18" y2="214.11" stroke="#27a3ec" stroke-width="0.8" />
<line x1="593.88" y1="212.31" x2="596.48" y2="212.31" stroke="#27a3ec" stroke-width="0.8" />
<circle cx="510.90" cy="231.50" r="1.30" fill="#27a3ec" stroke="none" stroke-width="1" />
<circle cx="516.92" cy="231.08" r="1.30" fill="#27a3ec" stroke="none" stroke-width="1" />
<circle cx="522.94" cy="230.45" r="1.30" fill="#27a3ec" stroke="none" stroke-width="1" />
<circle cx="534.98" cy="229.82" r="1.30" fill="#27a3ec" stroke="none" stroke-width="1" />
<circle cx="553.04" cy="223.12" r="1.30" fill="#27a3ec" stroke="none" stroke-width="1" />
<circle cx="571.10" cy="217.25" r="1.30" fill="#27a3ec" stroke="none" stroke-width="1" />
<circle cx="583.14" cy="213.69" r="1.30" fill="#27a3ec" stroke="none" stroke-width="1" />
<circle cx="595.18" cy="214.11" r="1.30" fill="#27a3ec" stroke="none" stroke-width="1" />
<polyline points="510.90,231.50 516.92,231.92 522.94,230.24 534.98,229.61 553.04,225.42 571.10,217.46 583.14,214.11 595.18,212.64" fill="none" stroke="#f5822a" stroke-width="1.3" stroke-linejoin="round" />
<circle cx="510.90" cy="231.50" r="1.30" fill="#f5822a" stroke="none" stroke-width="1" />
<circle cx="516.92" cy="231.92" r="1.30" fill="#f5822a" stroke="none" stroke-width="1" />
<circle cx="522.94" cy="230.24" r="1.30" fill="#f5822a" stroke="none" stroke-width="1" />
<circle cx="534.98" cy="229.61" r="1.30" fill="#f5822a" stroke="none" stroke-width="1" />
<circle cx="553.04" cy="225.42" r="1.30" fill="#f5822a" stroke="none" stroke-width="1" />
<circle cx="571.10" cy="217.46" r="1.30" fill="#f5822a" stroke="none" stroke-width="1" />
<circle cx="583.14" cy="214.11" r="1.30" fill="#f5822a" stroke="none" stroke-width="1" />
<circle cx="595.18" cy="212.64" r="1.30" fill="#f5822a" stroke="none" stroke-width="1" />
<polyline points="510.90,231.50 516.92,232.34 522.94,228.78 534.98,227.31 553.04,220.40 571.10,214.95 583.14,212.02 595.18,209.92" fill="none" stroke="#111" stroke-width="1.3" stroke-linejoin="round" />
<line x1="534.98" y1="225.81" x2="534.98" y2="227.31" stroke="#111" stroke-width="0.8" />
<line x1="533.68" y1="225.81" x2="536.28" y2="225.81" stroke="#111" stroke-width="0.8" />
<line x1="553.04" y1="218.90" x2="553.04" y2="220.40" stroke="#111" stroke-width="0.8" />
<line x1="551.74" y1="218.90" x2="554.34" y2="218.90" stroke="#111" stroke-width="0.8" />
<line x1="571.10" y1="213.75" x2="571.10" y2="214.95" stroke="#111" stroke-width="0.8" />
<line x1="569.80" y1="213.75" x2="572.40" y2="213.75" stroke="#111" stroke-width="0.8" />
<line x1="583.14" y1="211.02" x2="583.14" y2="212.02" stroke="#111" stroke-width="0.8" />
<line x1="581.84" y1="211.02" x2="584.44" y2="211.02" stroke="#111" stroke-width="0.8" />
<line x1="595.18" y1="208.72" x2="595.18" y2="209.92" stroke="#111" stroke-width="0.8" />
<line x1="593.88" y1="208.72" x2="596.48" y2="208.72" stroke="#111" stroke-width="0.8" />
<circle cx="510.90" cy="231.50" r="1.50" fill="#111" stroke="none" stroke-width="1" />
<circle cx="516.92" cy="232.34" r="1.50" fill="#111" stroke="none" stroke-width="1" />
<circle cx="522.94" cy="228.78" r="1.50" fill="#111" stroke="none" stroke-width="1" />
<circle cx="534.98" cy="227.31" r="1.50" fill="#111" stroke="none" stroke-width="1" />
<circle cx="553.04" cy="220.40" r="1.50" fill="#111" stroke="none" stroke-width="1" />
<circle cx="571.10" cy="214.95" r="1.50" fill="#111" stroke="none" stroke-width="1" />
<circle cx="583.14" cy="212.02" r="1.50" fill="#111" stroke="none" stroke-width="1" />
<circle cx="595.18" cy="209.92" r="1.50" fill="#111" stroke="none" stroke-width="1" />
<line x1="601.80" y1="201.60" x2="609.80" y2="201.60" stroke="#111" stroke-width="1.2" />
<circle cx="605.80" cy="201.60" r="1.40" fill="#111" stroke="none" stroke-width="1" />
<text x="613.80" y="204.80" font-size="10" >Untreated</text>
<line x1="601.80" y1="216.90" x2="609.80" y2="216.90" stroke="#f5822a" stroke-width="1.2" />
<circle cx="605.80" cy="216.90" r="1.40" fill="#f5822a" stroke="none" stroke-width="1" />
<text x="613.80" y="221.80" font-size="10" >NP<tspan font-size="7.3" dy="-3.90">cGAMP</tspan></text>
<line x1="601.80" y1="237.30" x2="609.80" y2="237.30" stroke="#27a3ec" stroke-width="1.2" />
<circle cx="605.80" cy="237.30" r="1.40" fill="#27a3ec" stroke="none" stroke-width="1" />
<text x="613.80" y="241.30" font-size="10" >NP<tspan font-size="7.3" dy="-3.90">siPCSK9</tspan></text>
<line x1="601.80" y1="255.50" x2="609.80" y2="255.50" stroke="#c844d4" stroke-width="1.2" />
<circle cx="605.80" cy="255.50" r="1.40" fill="#c844d4" stroke="none" stroke-width="1" />
<text x="613.80" y="259.70" font-size="10" >NP<tspan font-size="7.3" dy="-3.90">siPCSK9/cGAMP</tspan></text>
<line x1="234.60" y1="323.65" x2="234.60" y2="411.90" stroke="#111" stroke-width="1" />
<line x1="234.10" y1="411.40" x2="322.80" y2="411.40" stroke="#111" stroke-width="1" />
<line x1="232.30" y1="341.20" x2="234.60" y2="341.20" stroke="#111" stroke-width="1" />
<text x="230.50" y="344.80" font-size="10" text-anchor="end" >2000</text>
<line x1="232.30" y1="376.30" x2="234.60" y2="376.30" stroke="#111" stroke-width="1" />
<text x="230.50" y="379.90" font-size="10" text-anchor="end" >1000</text>
<line x1="232.30" y1="411.40" x2="234.60" y2="411.40" stroke="#111" stroke-width="1" />
<text x="230.50" y="415.00" font-size="10" text-anchor="end" >0</text>
<line x1="233.10" y1="393.85" x2="234.60" y2="393.85" stroke="#111" stroke-width="1" />
<line x1="233.10" y1="358.75" x2="234.60" y2="358.75" stroke="#111" stroke-width="1" />
<line x1="233.10" y1="323.65" x2="234.60" y2="323.65" stroke="#111" stroke-width="1" />
<line x1="234.60" y1="411.40" x2="234.60" y2="414.00" stroke="#111" stroke-width="1" />
<text x="234.60" y="424.80" font-size="10" text-anchor="middle" >0</text>
<line x1="256.65" y1="411.40" x2="256.65" y2="414.00" stroke="#111" stroke-width="1" />
<text x="256.65" y="424.80" font-size="10" text-anchor="middle" >10</text>
<line x1="278.70" y1="411.40" x2="278.70" y2="414.00" stroke="#111" stroke-width="1" />
<text x="278.70" y="424.80" font-size="10" text-anchor="middle" >20</text>
<line x1="300.75" y1="411.40" x2="300.75" y2="414.00" stroke="#111" stroke-width="1" />
<text x="300.75" y="424.80" font-size="10" text-anchor="middle" >30</text>
<line x1="322.80" y1="411.40" x2="322.80" y2="414.00" stroke="#111" stroke-width="1" />
<text x="322.80" y="424.80" font-size="10" text-anchor="middle" >40</text>
<text x="276.50" y="435.60" font-size="10" text-anchor="middle" >Days</text>
<text x="278.30" y="317.50" font-size="10" text-anchor="middle" >Rechallenge</text>
<text x="201.30" y="369.80" font-size="9.8" text-anchor="middle" transform="rotate(-90 201.30 369.80)" >Tumor volume (mm<tspan font-size="6.4" dy="-3.70">3</tspan><tspan dy="3.7">)</tspan></text>
<polyline points="234.60,411.40 252.24,407.36 258.86,404.03 265.47,397.71 272.08,388.23 278.70,369.10 283.11,360.50" fill="none" stroke="#111" stroke-width="1.4" stroke-linejoin="round" />
<line x1="252.24" y1="405.86" x2="252.24" y2="407.36" stroke="#111" stroke-width="0.8" />
<line x1="250.94" y1="405.86" x2="253.54" y2="405.86" stroke="#111" stroke-width="0.8" />
<line x1="258.86" y1="401.53" x2="258.86" y2="404.03" stroke="#111" stroke-width="0.8" />
<line x1="257.56" y1="401.53" x2="260.16" y2="401.53" stroke="#111" stroke-width="0.8" />
<line x1="265.47" y1="394.71" x2="265.47" y2="397.71" stroke="#111" stroke-width="0.8" />
<line x1="264.17" y1="394.71" x2="266.77" y2="394.71" stroke="#111" stroke-width="0.8" />
<line x1="272.08" y1="384.23" x2="272.08" y2="388.23" stroke="#111" stroke-width="0.8" />
<line x1="270.78" y1="384.23" x2="273.38" y2="384.23" stroke="#111" stroke-width="0.8" />
<line x1="278.70" y1="364.60" x2="278.70" y2="369.10" stroke="#111" stroke-width="0.8" />
<line x1="277.40" y1="364.60" x2="280.00" y2="364.60" stroke="#111" stroke-width="0.8" />
<line x1="283.11" y1="356.00" x2="283.11" y2="360.50" stroke="#111" stroke-width="0.8" />
<line x1="281.81" y1="356.00" x2="284.41" y2="356.00" stroke="#111" stroke-width="0.8" />
<circle cx="234.60" cy="411.40" r="1.45" fill="#111" stroke="none" stroke-width="1" />
<circle cx="252.24" cy="407.36" r="1.45" fill="#111" stroke="none" stroke-width="1" />
<circle cx="258.86" cy="404.03" r="1.45" fill="#111" stroke="none" stroke-width="1" />
<circle cx="265.47" cy="397.71" r="1.45" fill="#111" stroke="none" stroke-width="1" />
<circle cx="272.08" cy="388.23" r="1.45" fill="#111" stroke="none" stroke-width="1" />
<circle cx="278.70" cy="369.10" r="1.45" fill="#111" stroke="none" stroke-width="1" />
<circle cx="283.11" cy="360.50" r="1.45" fill="#111" stroke="none" stroke-width="1" />
<line x1="252.24" y1="407.36" x2="252.24" y2="408.86" stroke="#111" stroke-width="0.8" />
<line x1="250.94" y1="408.86" x2="253.54" y2="408.86" stroke="#111" stroke-width="0.8" />
<line x1="258.86" y1="404.03" x2="258.86" y2="406.53" stroke="#111" stroke-width="0.8" />
<line x1="257.56" y1="406.53" x2="260.16" y2="406.53" stroke="#111" stroke-width="0.8" />
<line x1="265.47" y1="397.71" x2="265.47" y2="400.71" stroke="#111" stroke-width="0.8" />
<line x1="264.17" y1="400.71" x2="266.77" y2="400.71" stroke="#111" stroke-width="0.8" />
<line x1="272.08" y1="388.23" x2="272.08" y2="392.23" stroke="#111" stroke-width="0.8" />
<line x1="270.78" y1="392.23" x2="273.38" y2="392.23" stroke="#111" stroke-width="0.8" />
<line x1="278.70" y1="369.10" x2="278.70" y2="373.60" stroke="#111" stroke-width="0.8" />
<line x1="277.40" y1="373.60" x2="280.00" y2="373.60" stroke="#111" stroke-width="0.8" />
<line x1="283.11" y1="360.50" x2="283.11" y2="365.00" stroke="#111" stroke-width="0.8" />
<line x1="281.81" y1="365.00" x2="284.41" y2="365.00" stroke="#111" stroke-width="0.8" />
<polyline points="252.24,411.40 258.86,411.40 265.47,411.40 272.08,411.40 278.70,411.40 284.21,411.40 290.83,411.40 296.34,411.40 301.85,411.40 308.03,411.40 313.98,411.40 319.71,411.40" fill="none" stroke="#c844d4" stroke-width="1.4" stroke-linejoin="round" />
<circle cx="252.24" cy="411.40" r="1.45" fill="#c844d4" stroke="none" stroke-width="1" />
<circle cx="258.86" cy="411.40" r="1.45" fill="#c844d4" stroke="none" stroke-width="1" />
<circle cx="265.47" cy="411.40" r="1.45" fill="#c844d4" stroke="none" stroke-width="1" />
<circle cx="272.08" cy="411.40" r="1.45" fill="#c844d4" stroke="none" stroke-width="1" />
<circle cx="278.70" cy="411.40" r="1.45" fill="#c844d4" stroke="none" stroke-width="1" />
<circle cx="284.21" cy="411.40" r="1.45" fill="#c844d4" stroke="none" stroke-width="1" />
<circle cx="290.83" cy="411.40" r="1.45" fill="#c844d4" stroke="none" stroke-width="1" />
<circle cx="296.34" cy="411.40" r="1.45" fill="#c844d4" stroke="none" stroke-width="1" />
<circle cx="301.85" cy="411.40" r="1.45" fill="#c844d4" stroke="none" stroke-width="1" />
<circle cx="308.03" cy="411.40" r="1.45" fill="#c844d4" stroke="none" stroke-width="1" />
<circle cx="313.98" cy="411.40" r="1.45" fill="#c844d4" stroke="none" stroke-width="1" />
<circle cx="319.71" cy="411.40" r="1.45" fill="#c844d4" stroke="none" stroke-width="1" />
<text x="244.40" y="336.50" font-size="7.5" text-anchor="middle" transform="rotate(-90 244.40 336.50)" >p &lt; 0.0001</text>
<path d="M251.2 325.9 L247.7 325.9 L247.7 348.3 L250.7 348.3" fill="none" stroke="#111" stroke-width="0.9" />
<line x1="254.00" y1="326.40" x2="262.60" y2="326.40" stroke="#111" stroke-width="1.2" />
<circle cx="258.10" cy="326.40" r="1.40" fill="#111" stroke="none" stroke-width="1" />
<line x1="254.00" y1="348.00" x2="262.60" y2="348.00" stroke="#c844d4" stroke-width="1.4" />
<circle cx="258.10" cy="348.00" r="1.50" fill="#c844d4" stroke="none" stroke-width="1" />
<text x="266.90" y="328.80" font-size="8.5" >Untreated</text>
<text x="266.40" y="350.30" font-size="8.5" >NP<tspan font-size="6.3" dy="-3.00">siPCSK9/cGAMP</tspan></text>
<line x1="367.60" y1="326.10" x2="367.60" y2="411.50" stroke="#555" stroke-width="1" />
<line x1="367.10" y1="411.00" x2="452.92" y2="411.00" stroke="#a0a0a0" stroke-width="1.4" />
<line x1="365.30" y1="326.10" x2="367.60" y2="326.10" stroke="#555" stroke-width="1" />
<text x="363.50" y="329.70" font-size="10" text-anchor="end" >2000</text>
<line x1="365.30" y1="368.55" x2="367.60" y2="368.55" stroke="#555" stroke-width="1" />
<text x="363.50" y="372.15" font-size="10" text-anchor="end" >1000</text>
<line x1="365.30" y1="411.00" x2="367.60" y2="411.00" stroke="#555" stroke-width="1" />
<text x="363.50" y="414.60" font-size="10" text-anchor="end" >0</text>
<line x1="366.10" y1="389.77" x2="367.60" y2="389.77" stroke="#555" stroke-width="1" />
<line x1="366.10" y1="347.32" x2="367.60" y2="347.32" stroke="#555" stroke-width="1" />
<line x1="367.60" y1="411.00" x2="367.60" y2="413.60" stroke="#a0a0a0" stroke-width="1.4" />
<text x="367.60" y="424.20" font-size="10" text-anchor="middle" >0</text>
<line x1="388.93" y1="411.00" x2="388.93" y2="413.60" stroke="#a0a0a0" stroke-width="1.4" />
<text x="388.93" y="424.20" font-size="10" text-anchor="middle" >10</text>
<line x1="410.26" y1="411.00" x2="410.26" y2="413.60" stroke="#a0a0a0" stroke-width="1.4" />
<text x="410.26" y="424.20" font-size="10" text-anchor="middle" >20</text>
<line x1="431.59" y1="411.00" x2="431.59" y2="413.60" stroke="#a0a0a0" stroke-width="1.4" />
<text x="431.59" y="424.20" font-size="10" text-anchor="middle" >30</text>
<line x1="452.92" y1="411.00" x2="452.92" y2="413.60" stroke="#a0a0a0" stroke-width="1.4" />
<text x="452.92" y="424.20" font-size="10" text-anchor="middle" >40</text>
<text x="410.50" y="435.80" font-size="10" text-anchor="middle" >Days</text>
<text x="340.30" y="371.00" font-size="10" text-anchor="middle" transform="rotate(-90 340.30 371.00)" >Tumor volume (mm<tspan font-size="6.5" dy="-3.80">3</tspan><tspan dy="3.8">)</tspan></text>
<polyline points="367.60,411.00 384.66,404.63 391.06,406.75 397.46,408.11 403.86,409.64 410.26,411.00 416.66,411.00 423.06,411.00 429.46,411.00 433.72,411.00" fill="none" stroke="#9b3aa8" stroke-width="1.1" stroke-linejoin="round" />
<circle cx="367.60" cy="411.00" r="1.35" fill="#9b3aa8" stroke="none" stroke-width="1" />
<circle cx="384.66" cy="404.63" r="1.35" fill="#9b3aa8" stroke="none" stroke-width="1" />
<circle cx="391.06" cy="406.75" r="1.35" fill="#9b3aa8" stroke="none" stroke-width="1" />
<circle cx="397.46" cy="408.11" r="1.35" fill="#9b3aa8" stroke="none" stroke-width="1" />
<circle cx="403.86" cy="409.64" r="1.35" fill="#9b3aa8" stroke="none" stroke-width="1" />
<circle cx="410.26" cy="411.00" r="1.35" fill="#9b3aa8" stroke="none" stroke-width="1" />
<circle cx="416.66" cy="411.00" r="1.35" fill="#9b3aa8" stroke="none" stroke-width="1" />
<circle cx="423.06" cy="411.00" r="1.35" fill="#9b3aa8" stroke="none" stroke-width="1" />
<circle cx="429.46" cy="411.00" r="1.35" fill="#9b3aa8" stroke="none" stroke-width="1" />
<circle cx="433.72" cy="411.00" r="1.35" fill="#9b3aa8" stroke="none" stroke-width="1" />
<polyline points="367.60,411.00 384.66,403.53 391.06,395.93 397.46,384.34 403.86,376.11 410.26,366.51 416.66,343.63" fill="none" stroke="#f0401e" stroke-width="1.1" stroke-linejoin="round" />
<line x1="391.06" y1="394.93" x2="391.06" y2="395.93" stroke="#f0401e" stroke-width="0.8" />
<line x1="389.76" y1="394.93" x2="392.36" y2="394.93" stroke="#f0401e" stroke-width="0.8" />
<line x1="397.46" y1="382.84" x2="397.46" y2="384.34" stroke="#f0401e" stroke-width="0.8" />
<line x1="396.16" y1="382.84" x2="398.76" y2="382.84" stroke="#f0401e" stroke-width="0.8" />
<line x1="403.86" y1="374.61" x2="403.86" y2="376.11" stroke="#f0401e" stroke-width="0.8" />
<line x1="402.56" y1="374.61" x2="405.16" y2="374.61" stroke="#f0401e" stroke-width="0.8" />
<line x1="410.26" y1="364.51" x2="410.26" y2="366.51" stroke="#f0401e" stroke-width="0.8" />
<line x1="408.96" y1="364.51" x2="411.56" y2="364.51" stroke="#f0401e" stroke-width="0.8" />
<line x1="416.66" y1="341.63" x2="416.66" y2="343.63" stroke="#f0401e" stroke-width="0.8" />
<line x1="415.36" y1="341.63" x2="417.96" y2="341.63" stroke="#f0401e" stroke-width="0.8" />
<rect x="366.25" y="409.65" width="2.70" height="2.70" fill="#f0401e" stroke="none" stroke-width="1" />
<rect x="383.31" y="402.18" width="2.70" height="2.70" fill="#f0401e" stroke="none" stroke-width="1" />
<rect x="389.71" y="394.58" width="2.70" height="2.70" fill="#f0401e" stroke="none" stroke-width="1" />
<rect x="396.11" y="382.99" width="2.70" height="2.70" fill="#f0401e" stroke="none" stroke-width="1" />
<rect x="402.51" y="374.76" width="2.70" height="2.70" fill="#f0401e" stroke="none" stroke-width="1" />
<rect x="408.91" y="365.16" width="2.70" height="2.70" fill="#f0401e" stroke="none" stroke-width="1" />
<rect x="415.31" y="342.28" width="2.70" height="2.70" fill="#f0401e" stroke="none" stroke-width="1" />
<polyline points="367.60,411.00 384.66,403.53 391.06,400.81 397.46,390.88 403.86,377.63 410.26,353.23 416.66,342.10" fill="none" stroke="#2a35a8" stroke-width="1.1" stroke-linejoin="round" />
<line x1="391.06" y1="399.81" x2="391.06" y2="400.81" stroke="#2a35a8" stroke-width="0.8" />
<line x1="389.76" y1="399.81" x2="392.36" y2="399.81" stroke="#2a35a8" stroke-width="0.8" />
<line x1="397.46" y1="389.38" x2="397.46" y2="390.88" stroke="#2a35a8" stroke-width="0.8" />
<line x1="396.16" y1="389.38" x2="398.76" y2="389.38" stroke="#2a35a8" stroke-width="0.8" />
<line x1="403.86" y1="375.63" x2="403.86" y2="377.63" stroke="#2a35a8" stroke-width="0.8" />
<line x1="402.56" y1="375.63" x2="405.16" y2="375.63" stroke="#2a35a8" stroke-width="0.8" />
<line x1="410.26" y1="351.23" x2="410.26" y2="353.23" stroke="#2a35a8" stroke-width="0.8" />
<line x1="408.96" y1="351.23" x2="411.56" y2="351.23" stroke="#2a35a8" stroke-width="0.8" />
<line x1="416.66" y1="340.10" x2="416.66" y2="342.10" stroke="#2a35a8" stroke-width="0.8" />
<line x1="415.36" y1="340.10" x2="417.96" y2="340.10" stroke="#2a35a8" stroke-width="0.8" />
<circle cx="367.60" cy="411.00" r="1.35" fill="#2a35a8" stroke="none" stroke-width="1" />
<circle cx="384.66" cy="403.53" r="1.35" fill="#2a35a8" stroke="none" stroke-width="1" />
<circle cx="391.06" cy="400.81" r="1.35" fill="#2a35a8" stroke="none" stroke-width="1" />
<circle cx="397.46" cy="390.88" r="1.35" fill="#2a35a8" stroke="none" stroke-width="1" />
<circle cx="403.86" cy="377.63" r="1.35" fill="#2a35a8" stroke="none" stroke-width="1" />
<circle cx="410.26" cy="353.23" r="1.35" fill="#2a35a8" stroke="none" stroke-width="1" />
<circle cx="416.66" cy="342.10" r="1.35" fill="#2a35a8" stroke="none" stroke-width="1" />
<polyline points="367.60,411.00 384.66,404.63 391.06,402.30 397.46,395.46 403.86,388.59 410.26,380.99 416.66,352.80 423.06,342.87" fill="none" stroke="#2a9cf0" stroke-width="1.1" stroke-linejoin="round" />
<line x1="384.66" y1="403.13" x2="384.66" y2="404.63" stroke="#2a9cf0" stroke-width="0.8" />
<line x1="383.36" y1="403.13" x2="385.96" y2="403.13" stroke="#2a9cf0" stroke-width="0.8" />
<line x1="391.06" y1="400.80" x2="391.06" y2="402.30" stroke="#2a9cf0" stroke-width="0.8" />
<line x1="389.76" y1="400.80" x2="392.36" y2="400.80" stroke="#2a9cf0" stroke-width="0.8" />
<line x1="397.46" y1="393.46" x2="397.46" y2="395.46" stroke="#2a9cf0" stroke-width="0.8" />
<line x1="396.16" y1="393.46" x2="398.76" y2="393.46" stroke="#2a9cf0" stroke-width="0.8" />
<line x1="403.86" y1="386.09" x2="403.86" y2="388.59" stroke="#2a9cf0" stroke-width="0.8" />
<line x1="402.56" y1="386.09" x2="405.16" y2="386.09" stroke="#2a9cf0" stroke-width="0.8" />
<line x1="410.26" y1="377.99" x2="410.26" y2="380.99" stroke="#2a9cf0" stroke-width="0.8" />
<line x1="408.96" y1="377.99" x2="411.56" y2="377.99" stroke="#2a9cf0" stroke-width="0.8" />
<line x1="416.66" y1="348.80" x2="416.66" y2="352.80" stroke="#2a9cf0" stroke-width="0.8" />
<line x1="415.36" y1="348.80" x2="417.96" y2="348.80" stroke="#2a9cf0" stroke-width="0.8" />
<line x1="423.06" y1="338.87" x2="423.06" y2="342.87" stroke="#2a9cf0" stroke-width="0.8" />
<line x1="421.76" y1="338.87" x2="424.36" y2="338.87" stroke="#2a9cf0" stroke-width="0.8" />
<rect x="366.25" y="409.65" width="2.70" height="2.70" fill="#2a9cf0" stroke="none" stroke-width="1" />
<rect x="383.31" y="403.28" width="2.70" height="2.70" fill="#2a9cf0" stroke="none" stroke-width="1" />
<rect x="389.71" y="400.95" width="2.70" height="2.70" fill="#2a9cf0" stroke="none" stroke-width="1" />
<rect x="396.11" y="394.11" width="2.70" height="2.70" fill="#2a9cf0" stroke="none" stroke-width="1" />
<rect x="402.51" y="387.24" width="2.70" height="2.70" fill="#2a9cf0" stroke="none" stroke-width="1" />
<rect x="408.91" y="379.64" width="2.70" height="2.70" fill="#2a9cf0" stroke="none" stroke-width="1" />
<rect x="415.31" y="351.45" width="2.70" height="2.70" fill="#2a9cf0" stroke="none" stroke-width="1" />
<rect x="421.71" y="341.52" width="2.70" height="2.70" fill="#2a9cf0" stroke="none" stroke-width="1" />
<polyline points="367.60,411.00 384.66,403.53 391.06,402.51 397.46,400.05 403.86,399.58 410.26,387.10 416.66,364.22 423.06,351.27 429.46,341.34" fill="none" stroke="#f33c9c" stroke-width="1.1" stroke-linejoin="round" />
<line x1="391.06" y1="401.51" x2="391.06" y2="402.51" stroke="#f33c9c" stroke-width="0.8" />
<line x1="389.76" y1="401.51" x2="392.36" y2="401.51" stroke="#f33c9c" stroke-width="0.8" />
<line x1="397.46" y1="398.55" x2="397.46" y2="400.05" stroke="#f33c9c" stroke-width="0.8" />
<line x1="396.16" y1="398.55" x2="398.76" y2="398.55" stroke="#f33c9c" stroke-width="0.8" />
<line x1="403.86" y1="398.08" x2="403.86" y2="399.58" stroke="#f33c9c" stroke-width="0.8" />
<line x1="402.56" y1="398.08" x2="405.16" y2="398.08" stroke="#f33c9c" stroke-width="0.8" />
<line x1="410.26" y1="385.10" x2="410.26" y2="387.10" stroke="#f33c9c" stroke-width="0.8" />
<line x1="408.96" y1="385.10" x2="411.56" y2="385.10" stroke="#f33c9c" stroke-width="0.8" />
<line x1="416.66" y1="361.72" x2="416.66" y2="364.22" stroke="#f33c9c" stroke-width="0.8" />
<line x1="415.36" y1="361.72" x2="417.96" y2="361.72" stroke="#f33c9c" stroke-width="0.8" />
<line x1="423.06" y1="348.77" x2="423.06" y2="351.27" stroke="#f33c9c" stroke-width="0.8" />
<line x1="421.76" y1="348.77" x2="424.36" y2="348.77" stroke="#f33c9c" stroke-width="0.8" />
<line x1="429.46" y1="339.84" x2="429.46" y2="341.34" stroke="#f33c9c" stroke-width="0.8" />
<line x1="428.16" y1="339.84" x2="430.76" y2="339.84" stroke="#f33c9c" stroke-width="0.8" />
<rect x="366.25" y="409.65" width="2.70" height="2.70" fill="#f33c9c" stroke="none" stroke-width="1" />
<rect x="383.31" y="402.18" width="2.70" height="2.70" fill="#f33c9c" stroke="none" stroke-width="1" />
<rect x="389.71" y="401.16" width="2.70" height="2.70" fill="#f33c9c" stroke="none" stroke-width="1" />
<rect x="396.11" y="398.70" width="2.70" height="2.70" fill="#f33c9c" stroke="none" stroke-width="1" />
<rect x="402.51" y="398.23" width="2.70" height="2.70" fill="#f33c9c" stroke="none" stroke-width="1" />
<rect x="408.91" y="385.75" width="2.70" height="2.70" fill="#f33c9c" stroke="none" stroke-width="1" />
<rect x="415.31" y="362.87" width="2.70" height="2.70" fill="#f33c9c" stroke="none" stroke-width="1" />
<rect x="421.71" y="349.92" width="2.70" height="2.70" fill="#f33c9c" stroke="none" stroke-width="1" />
<rect x="428.11" y="339.99" width="2.70" height="2.70" fill="#f33c9c" stroke="none" stroke-width="1" />
<polyline points="367.60,411.00 384.66,403.53 391.06,403.53 397.46,403.06 403.86,406.12 410.26,404.59 416.66,390.41 423.06,372.58 429.46,357.34 433.72,348.22" fill="none" stroke="#1fa67a" stroke-width="1.1" stroke-linejoin="round" />
<line x1="397.46" y1="401.56" x2="397.46" y2="403.06" stroke="#1fa67a" stroke-width="0.8" />
<line x1="396.16" y1="401.56" x2="398.76" y2="401.56" stroke="#1fa67a" stroke-width="0.8" />
<line x1="403.86" y1="405.12" x2="403.86" y2="406.12" stroke="#1fa67a" stroke-width="0.8" />
<line x1="402.56" y1="405.12" x2="405.16" y2="405.12" stroke="#1fa67a" stroke-width="0.8" />
<line x1="410.26" y1="403.59" x2="410.26" y2="404.59" stroke="#1fa67a" stroke-width="0.8" />
<line x1="408.96" y1="403.59" x2="411.56" y2="403.59" stroke="#1fa67a" stroke-width="0.8" />
<line x1="416.66" y1="388.41" x2="416.66" y2="390.41" stroke="#1fa67a" stroke-width="0.8" />
<line x1="415.36" y1="388.41" x2="417.96" y2="388.41" stroke="#1fa67a" stroke-width="0.8" />
<line x1="423.06" y1="369.58" x2="423.06" y2="372.58" stroke="#1fa67a" stroke-width="0.8" />
<line x1="421.76" y1="369.58" x2="424.36" y2="369.58" stroke="#1fa67a" stroke-width="0.8" />
<line x1="429.46" y1="353.84" x2="429.46" y2="357.34" stroke="#1fa67a" stroke-width="0.8" />
<line x1="428.16" y1="353.84" x2="430.76" y2="353.84" stroke="#1fa67a" stroke-width="0.8" />
<line x1="433.72" y1="346.22" x2="433.72" y2="348.22" stroke="#1fa67a" stroke-width="0.8" />
<line x1="432.42" y1="346.22" x2="435.02" y2="346.22" stroke="#1fa67a" stroke-width="0.8" />
<circle cx="367.60" cy="411.00" r="1.35" fill="#1fa67a" stroke="none" stroke-width="1" />
<circle cx="384.66" cy="403.53" r="1.35" fill="#1fa67a" stroke="none" stroke-width="1" />
<circle cx="391.06" cy="403.53" r="1.35" fill="#1fa67a" stroke="none" stroke-width="1" />
<circle cx="397.46" cy="403.06" r="1.35" fill="#1fa67a" stroke="none" stroke-width="1" />
<circle cx="403.86" cy="406.12" r="1.35" fill="#1fa67a" stroke="none" stroke-width="1" />
<circle cx="410.26" cy="404.59" r="1.35" fill="#1fa67a" stroke="none" stroke-width="1" />
<circle cx="416.66" cy="390.41" r="1.35" fill="#1fa67a" stroke="none" stroke-width="1" />
<circle cx="423.06" cy="372.58" r="1.35" fill="#1fa67a" stroke="none" stroke-width="1" />
<circle cx="429.46" cy="357.34" r="1.35" fill="#1fa67a" stroke="none" stroke-width="1" />
<circle cx="433.72" cy="348.22" r="1.35" fill="#1fa67a" stroke="none" stroke-width="1" />
<polyline points="367.60,411.00 384.66,403.53 391.06,391.64 397.46,379.46 403.86,360.87 410.26,348.98 416.66,339.51" fill="none" stroke="#8a8a8a" stroke-width="1.1" stroke-linejoin="round" />
<line x1="391.06" y1="390.64" x2="391.06" y2="391.64" stroke="#8a8a8a" stroke-width="0.8" />
<line x1="389.76" y1="390.64" x2="392.36" y2="390.64" stroke="#8a8a8a" stroke-width="0.8" />
<line x1="397.46" y1="377.96" x2="397.46" y2="379.46" stroke="#8a8a8a" stroke-width="0.8" />
<line x1="396.16" y1="377.96" x2="398.76" y2="377.96" stroke="#8a8a8a" stroke-width="0.8" />
<line x1="403.86" y1="359.37" x2="403.86" y2="360.87" stroke="#8a8a8a" stroke-width="0.8" />
<line x1="402.56" y1="359.37" x2="405.16" y2="359.37" stroke="#8a8a8a" stroke-width="0.8" />
<line x1="410.26" y1="346.98" x2="410.26" y2="348.98" stroke="#8a8a8a" stroke-width="0.8" />
<line x1="408.96" y1="346.98" x2="411.56" y2="346.98" stroke="#8a8a8a" stroke-width="0.8" />
<line x1="416.66" y1="337.51" x2="416.66" y2="339.51" stroke="#8a8a8a" stroke-width="0.8" />
<line x1="415.36" y1="337.51" x2="417.96" y2="337.51" stroke="#8a8a8a" stroke-width="0.8" />
<circle cx="367.60" cy="411.00" r="1.35" fill="#fff" stroke="#8a8a8a" stroke-width="0.6" />
<circle cx="384.66" cy="403.53" r="1.35" fill="#fff" stroke="#8a8a8a" stroke-width="0.6" />
<circle cx="391.06" cy="391.64" r="1.35" fill="#fff" stroke="#8a8a8a" stroke-width="0.6" />
<circle cx="397.46" cy="379.46" r="1.35" fill="#fff" stroke="#8a8a8a" stroke-width="0.6" />
<circle cx="403.86" cy="360.87" r="1.35" fill="#fff" stroke="#8a8a8a" stroke-width="0.6" />
<circle cx="410.26" cy="348.98" r="1.35" fill="#fff" stroke="#8a8a8a" stroke-width="0.6" />
<circle cx="416.66" cy="339.51" r="1.35" fill="#fff" stroke="#8a8a8a" stroke-width="0.6" />
<text x="448.50" y="350.70" font-size="7.9" text-anchor="middle" transform="rotate(-90 448.50 350.70)" >p &lt; 0.0001</text>
<path d="M454.5 328.4 L451.5 328.4 L451.5 374.2 L456.8 374.2" fill="none" stroke="#222" stroke-width="0.9" />
<line x1="456.80" y1="338.30" x2="456.80" y2="407.00" stroke="#777" stroke-width="1.4" />
<line x1="459.30" y1="328.20" x2="467.50" y2="328.20" stroke="#9b3aa8" stroke-width="1.0" />
<circle cx="463.40" cy="328.20" r="1.25" fill="#9b3aa8" stroke="none" stroke-width="1" />
<line x1="459.30" y1="341.30" x2="467.50" y2="341.30" stroke="#8a8a8a" stroke-width="1.0" />
<circle cx="463.40" cy="341.30" r="1.20" fill="#fff" stroke="#8a8a8a" stroke-width="0.6" />
<line x1="459.30" y1="355.00" x2="467.50" y2="355.00" stroke="#2a9cf0" stroke-width="1.0" />
<rect x="462.20" y="353.80" width="2.40" height="2.40" fill="#2a9cf0" stroke="none" stroke-width="1" />
<line x1="459.30" y1="368.40" x2="467.50" y2="368.40" stroke="#f0401e" stroke-width="1.0" />
<rect x="462.20" y="367.20" width="2.40" height="2.40" fill="#f0401e" stroke="none" stroke-width="1" />
<line x1="459.30" y1="381.50" x2="467.50" y2="381.50" stroke="#1fa67a" stroke-width="1.0" />
<circle cx="463.40" cy="381.50" r="1.25" fill="#1fa67a" stroke="none" stroke-width="1" />
<line x1="459.30" y1="394.60" x2="467.50" y2="394.60" stroke="#f33c9c" stroke-width="1.0" />
<rect x="462.20" y="393.40" width="2.40" height="2.40" fill="#f33c9c" stroke="none" stroke-width="1" />
<line x1="459.30" y1="408.30" x2="467.50" y2="408.30" stroke="#2a35a8" stroke-width="1.0" />
<circle cx="463.40" cy="408.30" r="1.25" fill="#2a35a8" stroke="none" stroke-width="1" />
<line x1="511.40" y1="334.00" x2="511.40" y2="411.70" stroke="#8a8a8a" stroke-width="1.4" />
<line x1="510.90" y1="410.20" x2="594.98" y2="410.20" stroke="#707070" stroke-width="1.2" />
<line x1="509.10" y1="334.00" x2="511.40" y2="334.00" stroke="#8a8a8a" stroke-width="1.4" />
<text x="508.10" y="337.60" font-size="10" text-anchor="end" >100</text>
<line x1="509.10" y1="372.10" x2="511.40" y2="372.10" stroke="#8a8a8a" stroke-width="1.4" />
<text x="508.10" y="375.70" font-size="10" text-anchor="end" >50</text>
<line x1="509.10" y1="410.20" x2="511.40" y2="410.20" stroke="#8a8a8a" stroke-width="1.4" />
<text x="508.10" y="413.80" font-size="10" text-anchor="end" >0</text>
<line x1="509.90" y1="391.15" x2="511.40" y2="391.15" stroke="#8a8a8a" stroke-width="1.4" />
<line x1="509.90" y1="353.05" x2="511.40" y2="353.05" stroke="#8a8a8a" stroke-width="1.4" />
<line x1="523.34" y1="410.20" x2="523.34" y2="412.80" stroke="#707070" stroke-width="1.2" />
<text x="523.34" y="423.60" font-size="10" text-anchor="middle" >10</text>
<line x1="547.22" y1="410.20" x2="547.22" y2="412.80" stroke="#707070" stroke-width="1.2" />
<text x="547.22" y="423.60" font-size="10" text-anchor="middle" >20</text>
<line x1="571.10" y1="410.20" x2="571.10" y2="412.80" stroke="#707070" stroke-width="1.2" />
<text x="571.10" y="423.60" font-size="10" text-anchor="middle" >30</text>
<line x1="594.98" y1="410.20" x2="594.98" y2="412.80" stroke="#707070" stroke-width="1.2" />
<text x="594.98" y="423.60" font-size="10" text-anchor="middle" >40</text>
<text x="552.60" y="435.00" font-size="10" text-anchor="middle" >Days</text>
<text x="493.20" y="365.40" font-size="10" text-anchor="middle" transform="rotate(-90 493.20 365.40)" >Survival (%)</text>
<line x1="511.40" y1="334.00" x2="511.40" y2="326.60" stroke="#8a8a8a" stroke-width="1.4" />
<path d="M554.38 349.24 H554.38 V410.20" fill="none" stroke="#f0401e" stroke-width="1.1" />
<path d="M547.22 334.00 H547.22 V349.24 H554.38 V349.24 H554.38 V364.48" fill="none" stroke="#2a35a8" stroke-width="1.1" />
<path d="M554.38 334.00 H554.38 V349.24 H561.55 V349.24 H561.55 V410.20" fill="none" stroke="#2a9cf0" stroke-width="1.1" />
<path d="M561.55 334.00 H561.55 V364.48 H568.71 V364.48 H568.71 V410.20" fill="none" stroke="#f33c9c" stroke-width="1.1" />
<path d="M568.71 334.00 H568.71 V379.72 H573.49 V379.72 H573.49 V410.20" fill="none" stroke="#1fa67a" stroke-width="1.1" />
<path d="M547.22 364.48 H554.88 V410.20" fill="none" stroke="#8a8a8a" stroke-width="1.0" opacity="0.85"/>
<path d="M547.22 334.00 H547.22 V364.48" fill="none" stroke="#8a8a8a" stroke-width="1.0" />
<path d="M511.40 334.00 H547.22 V334.00" fill="none" stroke="#8a8a8a" stroke-width="1.3" />
<path d="M547.22 334.00 H594.98 V334.00" fill="none" stroke="#9b3aa8" stroke-width="1.1" />
<line x1="547.22" y1="332.70" x2="547.22" y2="335.30" stroke="#9b3aa8" stroke-width="0.9" />
<line x1="554.38" y1="332.70" x2="554.38" y2="335.30" stroke="#9b3aa8" stroke-width="0.9" />
<line x1="561.55" y1="332.70" x2="561.55" y2="335.30" stroke="#9b3aa8" stroke-width="0.9" />
<line x1="568.71" y1="332.70" x2="568.71" y2="335.30" stroke="#9b3aa8" stroke-width="0.9" />
<line x1="573.49" y1="332.70" x2="573.49" y2="335.30" stroke="#9b3aa8" stroke-width="0.9" />
<line x1="594.98" y1="332.70" x2="594.98" y2="335.30" stroke="#9b3aa8" stroke-width="0.9" />
<text x="601.80" y="354.20" font-size="7.8" text-anchor="middle" transform="rotate(-90 601.80 354.20)" >p &lt; 0.0001</text>
<path d="M609.3 332 L605.2 332 L605.2 377 L610.5 377" fill="none" stroke="#333" stroke-width="0.9" />
<path d="M612 342.5 L610.5 342.5 L610.5 409.2 L614 409.2" fill="none" stroke="#333" stroke-width="0.9" />
<line x1="614.40" y1="329.90" x2="622.90" y2="329.90" stroke="#9b3aa8" stroke-width="1.0" />
<line x1="618.60" y1="328.60" x2="618.60" y2="331.20" stroke="#9b3aa8" stroke-width="0.9" />
<text x="627.00" y="333.40" font-size="9.6" >IgG</text>
<line x1="614.40" y1="342.70" x2="622.90" y2="342.70" stroke="#8a8a8a" stroke-width="1.0" />
<line x1="618.60" y1="341.40" x2="618.60" y2="344.00" stroke="#8a8a8a" stroke-width="0.9" />
<text x="627.00" y="346.20" font-size="9.6" >Untreated</text>
<line x1="614.40" y1="356.50" x2="622.90" y2="356.50" stroke="#f0401e" stroke-width="1.0" />
<line x1="618.60" y1="355.20" x2="618.60" y2="357.80" stroke="#f0401e" stroke-width="0.9" />
<text x="627.00" y="360.00" font-size="9.6" >CD8</text>
<line x1="614.40" y1="370.00" x2="622.90" y2="370.00" stroke="#2a9cf0" stroke-width="1.0" />
<line x1="618.60" y1="368.70" x2="618.60" y2="371.30" stroke="#2a9cf0" stroke-width="0.9" />
<text x="627.00" y="373.50" font-size="9.6" >CD4</text>
<line x1="614.40" y1="383.20" x2="622.90" y2="383.20" stroke="#1fa67a" stroke-width="1.0" />
<line x1="618.60" y1="381.90" x2="618.60" y2="384.50" stroke="#1fa67a" stroke-width="0.9" />
<text x="627.00" y="386.70" font-size="9.6" >NK1.1</text>
<line x1="614.40" y1="396.70" x2="622.90" y2="396.70" stroke="#f33c9c" stroke-width="1.0" />
<line x1="618.60" y1="395.40" x2="618.60" y2="398.00" stroke="#f33c9c" stroke-width="0.9" />
<text x="627.00" y="400.20" font-size="9.6" >Marcophage</text>
<line x1="614.40" y1="409.90" x2="622.90" y2="409.90" stroke="#2a35a8" stroke-width="1.0" />
<line x1="618.60" y1="408.60" x2="618.60" y2="411.20" stroke="#2a35a8" stroke-width="0.9" />
<text x="627.00" y="413.40" font-size="9.6" ><tspan font-style="italic" fill="#333">Batf3</tspan><tspan font-size="6.8" dy="-3.6" fill="#333">-/-</tspan></text>
<rect x="43.35" y="572.51" width="13.30" height="15.59" fill="#e6e6e6" stroke="#9a9a9a" stroke-width="0.9" />
<rect x="63.25" y="565.04" width="13.30" height="23.06" fill="#e2f3f6" stroke="#43bccb" stroke-width="0.9" />
<rect x="82.15" y="554.23" width="13.30" height="33.87" fill="#fdece1" stroke="#f7822e" stroke-width="0.9" />
<rect x="102.05" y="531.52" width="13.30" height="56.58" fill="#f6eefa" stroke="#a752c2" stroke-width="0.9" />
<line x1="50.00" y1="564.76" x2="50.00" y2="578.05" stroke="#9a9a9a" stroke-width="0.8" />
<line x1="47.70" y1="564.76" x2="52.30" y2="564.76" stroke="#9a9a9a" stroke-width="0.8" />
<line x1="47.70" y1="578.05" x2="52.30" y2="578.05" stroke="#9a9a9a" stroke-width="0.8" />
<circle cx="50.20" cy="564.76" r="1.50" fill="#d0d0d0" stroke="#9a9a9a" stroke-width="0.8" />
<circle cx="46.20" cy="575.56" r="1.50" fill="#d0d0d0" stroke="#9a9a9a" stroke-width="0.8" />
<circle cx="53.40" cy="576.67" r="1.50" fill="#d0d0d0" stroke="#9a9a9a" stroke-width="0.8" />
<line x1="69.90" y1="553.68" x2="69.90" y2="576.12" stroke="#43bccb" stroke-width="0.8" />
<line x1="67.60" y1="553.68" x2="72.20" y2="553.68" stroke="#43bccb" stroke-width="0.8" />
<line x1="67.60" y1="576.12" x2="72.20" y2="576.12" stroke="#43bccb" stroke-width="0.8" />
<circle cx="69.90" cy="553.68" r="1.50" fill="#bfe8ee" stroke="#43bccb" stroke-width="0.8" />
<circle cx="69.90" cy="565.04" r="1.50" fill="#bfe8ee" stroke="#43bccb" stroke-width="0.8" />
<circle cx="69.90" cy="576.12" r="1.50" fill="#bfe8ee" stroke="#43bccb" stroke-width="0.8" />
<line x1="88.80" y1="543.15" x2="88.80" y2="565.87" stroke="#f7822e" stroke-width="0.8" />
<line x1="86.50" y1="543.15" x2="91.10" y2="543.15" stroke="#f7822e" stroke-width="0.8" />
<line x1="86.50" y1="565.87" x2="91.10" y2="565.87" stroke="#f7822e" stroke-width="0.8" />
<circle cx="86.00" cy="545.92" r="1.50" fill="#fcd9c2" stroke="#f7822e" stroke-width="0.8" />
<circle cx="92.40" cy="550.36" r="1.50" fill="#fcd9c2" stroke="#f7822e" stroke-width="0.8" />
<circle cx="89.20" cy="566.42" r="1.50" fill="#fcd9c2" stroke="#f7822e" stroke-width="0.8" />
<line x1="108.70" y1="524.59" x2="108.70" y2="538.44" stroke="#a752c2" stroke-width="0.8" />
<line x1="106.40" y1="524.59" x2="111.00" y2="524.59" stroke="#a752c2" stroke-width="0.8" />
<line x1="106.40" y1="538.44" x2="111.00" y2="538.44" stroke="#a752c2" stroke-width="0.8" />
<circle cx="105.30" cy="525.70" r="1.50" fill="#ead6f2" stroke="#a752c2" stroke-width="0.8" />
<circle cx="112.00" cy="528.75" r="1.50" fill="#ead6f2" stroke="#a752c2" stroke-width="0.8" />
<circle cx="108.50" cy="539.00" r="1.50" fill="#ead6f2" stroke="#a752c2" stroke-width="0.8" />
<line x1="37.40" y1="490.50" x2="37.40" y2="588.10" stroke="#222" stroke-width="1" />
<line x1="37.40" y1="588.10" x2="121.60" y2="588.10" stroke="#222" stroke-width="1" />
<line x1="35.80" y1="573.90" x2="37.40" y2="573.90" stroke="#222" stroke-width="1" />
<text x="35.50" y="576.85" font-size="8.2" text-anchor="end" >60</text>
<line x1="35.80" y1="546.20" x2="37.40" y2="546.20" stroke="#222" stroke-width="1" />
<text x="35.50" y="549.15" font-size="8.2" text-anchor="end" >70</text>
<line x1="35.80" y1="518.50" x2="37.40" y2="518.50" stroke="#222" stroke-width="1" />
<text x="35.50" y="521.45" font-size="8.2" text-anchor="end" >80</text>
<line x1="35.80" y1="490.80" x2="37.40" y2="490.80" stroke="#222" stroke-width="1" />
<text x="35.50" y="493.75" font-size="8.2" text-anchor="end" >90</text>
<line x1="50.00" y1="588.10" x2="50.00" y2="590.10" stroke="#666" stroke-width="0.8" />
<line x1="69.90" y1="588.10" x2="69.90" y2="590.10" stroke="#666" stroke-width="0.8" />
<line x1="88.80" y1="588.10" x2="88.80" y2="590.10" stroke="#666" stroke-width="0.8" />
<line x1="108.70" y1="588.10" x2="108.70" y2="590.10" stroke="#666" stroke-width="0.8" />
<line x1="43.80" y1="548.30" x2="73.00" y2="548.30" stroke="#444" stroke-width="1" />
<text x="58.40" y="546.00" font-size="6.6" text-anchor="middle" >p = 0.36</text>
<line x1="44.90" y1="533.50" x2="88.70" y2="533.50" stroke="#444" stroke-width="1" />
<text x="66.80" y="531.20" font-size="6.6" text-anchor="middle" >p = 0.069</text>
<line x1="66.30" y1="507.40" x2="110.70" y2="507.40" stroke="#444" stroke-width="1" />
<text x="88.50" y="505.10" font-size="6.6" text-anchor="middle" >p = 0.011</text>
<line x1="82.80" y1="520.20" x2="111.20" y2="520.20" stroke="#444" stroke-width="1" />
<text x="97.00" y="517.90" font-size="6.6" text-anchor="middle" >p = 0.038</text>
<text x="82.20" y="490.20" font-size="8.2" text-anchor="middle" >Dentritic cells</text>
<text x="10.30" y="600.50" font-size="8.2" >cGAMP</text>
<text x="10.30" y="612.30" font-size="8.0" >siPCSK9</text>
<text x="50.00" y="599.30" font-size="8.2" text-anchor="middle" >-</text>
<text x="50.00" y="610.30" font-size="8.2" text-anchor="middle" >-</text>
<text x="69.90" y="599.30" font-size="8.2" text-anchor="middle" >-</text>
<text x="69.90" y="610.30" font-size="8.2" text-anchor="middle" >+</text>
<text x="88.80" y="599.30" font-size="8.2" text-anchor="middle" >+</text>
<text x="88.80" y="610.30" font-size="8.2" text-anchor="middle" >-</text>
<text x="108.70" y="599.30" font-size="8.2" text-anchor="middle" >+</text>
<text x="108.70" y="610.30" font-size="8.2" text-anchor="middle" >+</text>
<line x1="44.00" y1="613.10" x2="112.00" y2="613.10" stroke="#444" stroke-width="1" />
<text x="79.20" y="622.30" font-size="8.5" text-anchor="middle" >NP</text>
<text x="22.30" y="533.50" font-size="8.1" text-anchor="middle" transform="rotate(-90 22.30 533.50)" ><tspan>CD86</tspan><tspan font-size="5.6" dy="-3">+</tspan><tspan dy="3">/CD11C</tspan><tspan font-size="5.6" dy="-3">+</tspan><tspan dy="3"> cell (%)</tspan></text>
<rect x="177.10" y="565.05" width="12.80" height="23.85" fill="#e6e6e6" stroke="#9a9a9a" stroke-width="0.9" />
<rect x="196.80" y="561.13" width="12.80" height="27.77" fill="#e2f3f6" stroke="#43bccb" stroke-width="0.9" />
<rect x="216.10" y="561.62" width="12.80" height="27.28" fill="#fdece1" stroke="#f7822e" stroke-width="0.9" />
<rect x="235.60" y="530.16" width="12.80" height="58.74" fill="#f6eefa" stroke="#a752c2" stroke-width="0.9" />
<line x1="183.50" y1="563.53" x2="183.50" y2="566.65" stroke="#9a9a9a" stroke-width="0.8" />
<line x1="181.20" y1="563.53" x2="185.80" y2="563.53" stroke="#9a9a9a" stroke-width="0.8" />
<line x1="181.20" y1="566.65" x2="185.80" y2="566.65" stroke="#9a9a9a" stroke-width="0.8" />
<circle cx="181.30" cy="563.53" r="1.50" fill="#d0d0d0" stroke="#9a9a9a" stroke-width="0.8" />
<circle cx="184.00" cy="564.20" r="1.50" fill="#d0d0d0" stroke="#9a9a9a" stroke-width="0.8" />
<circle cx="186.00" cy="566.20" r="1.50" fill="#d0d0d0" stroke="#9a9a9a" stroke-width="0.8" />
<line x1="203.20" y1="555.21" x2="203.20" y2="567.99" stroke="#43bccb" stroke-width="0.8" />
<line x1="200.90" y1="555.21" x2="205.50" y2="555.21" stroke="#43bccb" stroke-width="0.8" />
<line x1="200.90" y1="567.99" x2="205.50" y2="567.99" stroke="#43bccb" stroke-width="0.8" />
<circle cx="199.30" cy="555.52" r="1.50" fill="#bfe8ee" stroke="#43bccb" stroke-width="0.8" />
<circle cx="206.20" cy="558.19" r="1.50" fill="#bfe8ee" stroke="#43bccb" stroke-width="0.8" />
<circle cx="202.50" cy="563.76" r="1.50" fill="#bfe8ee" stroke="#43bccb" stroke-width="0.8" />
<line x1="222.50" y1="550.41" x2="222.50" y2="570.39" stroke="#f7822e" stroke-width="0.8" />
<line x1="220.20" y1="550.41" x2="224.80" y2="550.41" stroke="#f7822e" stroke-width="0.8" />
<line x1="220.20" y1="570.39" x2="224.80" y2="570.39" stroke="#f7822e" stroke-width="0.8" />
<circle cx="222.50" cy="551.30" r="1.50" fill="#fcd9c2" stroke="#f7822e" stroke-width="0.8" />
<circle cx="222.50" cy="559.53" r="1.50" fill="#fcd9c2" stroke="#f7822e" stroke-width="0.8" />
<circle cx="222.50" cy="569.59" r="1.50" fill="#fcd9c2" stroke="#f7822e" stroke-width="0.8" />
<line x1="242.00" y1="518.68" x2="242.00" y2="541.51" stroke="#a752c2" stroke-width="0.8" />
<line x1="239.70" y1="518.68" x2="244.30" y2="518.68" stroke="#a752c2" stroke-width="0.8" />
<line x1="239.70" y1="541.51" x2="244.30" y2="541.51" stroke="#a752c2" stroke-width="0.8" />
<circle cx="242.00" cy="519.03" r="1.50" fill="#ead6f2" stroke="#a752c2" stroke-width="0.8" />
<circle cx="242.00" cy="529.27" r="1.50" fill="#ead6f2" stroke="#a752c2" stroke-width="0.8" />
<circle cx="241.40" cy="541.51" r="1.50" fill="#ead6f2" stroke="#a752c2" stroke-width="0.8" />
<line x1="170.40" y1="490.30" x2="170.40" y2="588.90" stroke="#222" stroke-width="1" />
<line x1="170.40" y1="588.90" x2="255.40" y2="588.90" stroke="#222" stroke-width="1" />
<line x1="168.80" y1="588.90" x2="170.40" y2="588.90" stroke="#222" stroke-width="1" />
<text x="168.50" y="591.85" font-size="8.2" text-anchor="end" >0</text>
<line x1="168.80" y1="544.40" x2="170.40" y2="544.40" stroke="#222" stroke-width="1" />
<text x="168.50" y="547.35" font-size="8.2" text-anchor="end" >100</text>
<line x1="168.80" y1="499.90" x2="170.40" y2="499.90" stroke="#222" stroke-width="1" />
<text x="168.50" y="502.85" font-size="8.2" text-anchor="end" >200</text>
<line x1="183.50" y1="588.90" x2="183.50" y2="590.90" stroke="#666" stroke-width="0.8" />
<line x1="203.20" y1="588.90" x2="203.20" y2="590.90" stroke="#666" stroke-width="0.8" />
<line x1="222.50" y1="588.90" x2="222.50" y2="590.90" stroke="#666" stroke-width="0.8" />
<line x1="242.00" y1="588.90" x2="242.00" y2="590.90" stroke="#666" stroke-width="0.8" />
<line x1="177.10" y1="547.90" x2="206.00" y2="547.90" stroke="#444" stroke-width="1" />
<text x="191.55" y="545.60" font-size="6.6" text-anchor="middle" >p = 0.505</text>
<line x1="176.30" y1="535.90" x2="220.90" y2="535.90" stroke="#444" stroke-width="1" />
<text x="198.60" y="533.60" font-size="6.6" text-anchor="middle" >p = 0.796</text>
<line x1="203.30" y1="502.50" x2="247.70" y2="502.50" stroke="#444" stroke-width="1" />
<text x="225.50" y="500.20" font-size="6.6" text-anchor="middle" >p = 0.03</text>
<line x1="220.10" y1="513.40" x2="248.50" y2="513.40" stroke="#444" stroke-width="1" />
<text x="234.30" y="511.10" font-size="6.6" text-anchor="middle" >p = 0.04</text>
<text x="214.40" y="490.30" font-size="8.2" text-anchor="middle" >Marcophages</text>
<text x="143.60" y="600.50" font-size="8.2" >cGAMP</text>
<text x="143.60" y="612.30" font-size="8.0" >siPCSK9</text>
<text x="183.50" y="599.30" font-size="8.2" text-anchor="middle" >-</text>
<text x="183.50" y="610.30" font-size="8.2" text-anchor="middle" >-</text>
<text x="203.20" y="599.30" font-size="8.2" text-anchor="middle" >-</text>
<text x="203.20" y="610.30" font-size="8.2" text-anchor="middle" >+</text>
<text x="222.50" y="599.30" font-size="8.2" text-anchor="middle" >+</text>
<text x="222.50" y="610.30" font-size="8.2" text-anchor="middle" >-</text>
<text x="242.00" y="599.30" font-size="8.2" text-anchor="middle" >+</text>
<text x="242.00" y="610.30" font-size="8.2" text-anchor="middle" >+</text>
<line x1="182.30" y1="614.40" x2="246.50" y2="614.40" stroke="#444" stroke-width="1" />
<text x="214.40" y="622.30" font-size="8.5" text-anchor="middle" >NP</text>
<text x="151.60" y="537.60" font-size="8.1" text-anchor="middle" transform="rotate(-90 151.60 537.60)" >M1 / M2 (%)</text>
<rect x="312.25" y="574.38" width="12.50" height="14.72" fill="#e6e6e6" stroke="#9a9a9a" stroke-width="0.9" />
<rect x="331.15" y="558.83" width="12.50" height="30.27" fill="#e2f3f6" stroke="#43bccb" stroke-width="0.9" />
<rect x="350.45" y="553.24" width="12.50" height="35.86" fill="#fdece1" stroke="#f7822e" stroke-width="0.9" />
<rect x="369.45" y="518.25" width="12.50" height="70.85" fill="#f6eefa" stroke="#a752c2" stroke-width="0.9" />
<line x1="318.50" y1="564.66" x2="318.50" y2="584.59" stroke="#9a9a9a" stroke-width="0.8" />
<line x1="316.20" y1="564.66" x2="320.80" y2="564.66" stroke="#9a9a9a" stroke-width="0.8" />
<line x1="316.20" y1="584.59" x2="320.80" y2="584.59" stroke="#9a9a9a" stroke-width="0.8" />
<circle cx="318.50" cy="564.66" r="1.50" fill="#d0d0d0" stroke="#9a9a9a" stroke-width="0.8" />
<circle cx="318.50" cy="574.87" r="1.50" fill="#d0d0d0" stroke="#9a9a9a" stroke-width="0.8" />
<circle cx="318.50" cy="584.59" r="1.50" fill="#d0d0d0" stroke="#9a9a9a" stroke-width="0.8" />
<line x1="337.40" y1="549.11" x2="337.40" y2="566.61" stroke="#43bccb" stroke-width="0.8" />
<line x1="335.10" y1="549.11" x2="339.70" y2="549.11" stroke="#43bccb" stroke-width="0.8" />
<line x1="335.10" y1="566.61" x2="339.70" y2="566.61" stroke="#43bccb" stroke-width="0.8" />
<circle cx="337.40" cy="549.60" r="1.50" fill="#bfe8ee" stroke="#43bccb" stroke-width="0.8" />
<circle cx="334.10" cy="560.53" r="1.50" fill="#bfe8ee" stroke="#43bccb" stroke-width="0.8" />
<circle cx="340.80" cy="564.91" r="1.50" fill="#bfe8ee" stroke="#43bccb" stroke-width="0.8" />
<line x1="356.70" y1="547.41" x2="356.70" y2="559.07" stroke="#f7822e" stroke-width="0.8" />
<line x1="354.40" y1="547.41" x2="359.00" y2="547.41" stroke="#f7822e" stroke-width="0.8" />
<line x1="354.40" y1="559.07" x2="359.00" y2="559.07" stroke="#f7822e" stroke-width="0.8" />
<circle cx="353.20" cy="547.65" r="1.50" fill="#fcd9c2" stroke="#f7822e" stroke-width="0.8" />
<circle cx="360.30" cy="553.24" r="1.50" fill="#fcd9c2" stroke="#f7822e" stroke-width="0.8" />
<circle cx="356.60" cy="559.07" r="1.50" fill="#fcd9c2" stroke="#f7822e" stroke-width="0.8" />
<line x1="375.70" y1="514.61" x2="375.70" y2="519.47" stroke="#a752c2" stroke-width="0.8" />
<line x1="373.40" y1="514.61" x2="378.00" y2="514.61" stroke="#a752c2" stroke-width="0.8" />
<line x1="373.40" y1="519.47" x2="378.00" y2="519.47" stroke="#a752c2" stroke-width="0.8" />
<circle cx="375.50" cy="515.09" r="1.50" fill="#ead6f2" stroke="#a752c2" stroke-width="0.8" />
<circle cx="372.40" cy="519.47" r="1.50" fill="#ead6f2" stroke="#a752c2" stroke-width="0.8" />
<circle cx="379.70" cy="519.47" r="1.50" fill="#ead6f2" stroke="#a752c2" stroke-width="0.8" />
<line x1="306.00" y1="491.40" x2="306.00" y2="589.10" stroke="#222" stroke-width="1" />
<line x1="306.00" y1="589.10" x2="389.30" y2="589.10" stroke="#222" stroke-width="1" />
<line x1="304.40" y1="577.30" x2="306.00" y2="577.30" stroke="#222" stroke-width="1" />
<text x="304.10" y="580.25" font-size="8.2" text-anchor="end" >40</text>
<line x1="304.40" y1="553.00" x2="306.00" y2="553.00" stroke="#222" stroke-width="1" />
<text x="304.10" y="555.95" font-size="8.2" text-anchor="end" >50</text>
<line x1="304.40" y1="528.70" x2="306.00" y2="528.70" stroke="#222" stroke-width="1" />
<text x="304.10" y="531.65" font-size="8.2" text-anchor="end" >60</text>
<line x1="304.40" y1="504.40" x2="306.00" y2="504.40" stroke="#222" stroke-width="1" />
<text x="304.10" y="507.35" font-size="8.2" text-anchor="end" >70</text>
<line x1="318.50" y1="589.10" x2="318.50" y2="591.10" stroke="#666" stroke-width="0.8" />
<line x1="337.40" y1="589.10" x2="337.40" y2="591.10" stroke="#666" stroke-width="0.8" />
<line x1="356.70" y1="589.10" x2="356.70" y2="591.10" stroke="#666" stroke-width="0.8" />
<line x1="375.70" y1="589.10" x2="375.70" y2="591.10" stroke="#666" stroke-width="0.8" />
<line x1="312.30" y1="544.80" x2="340.40" y2="544.80" stroke="#444" stroke-width="1" />
<text x="326.35" y="542.50" font-size="6.6" text-anchor="middle" >p = 0.091</text>
<line x1="313.10" y1="535.50" x2="356.90" y2="535.50" stroke="#444" stroke-width="1" />
<text x="335.00" y="533.20" font-size="6.6" text-anchor="middle" >p = 0.031</text>
<line x1="335.00" y1="501.00" x2="378.80" y2="501.00" stroke="#444" stroke-width="1" />
<text x="356.90" y="498.70" font-size="6.6" text-anchor="middle" >p = 0.007</text>
<line x1="350.20" y1="511.90" x2="378.80" y2="511.90" stroke="#444" stroke-width="1" />
<text x="364.50" y="509.60" font-size="6.6" text-anchor="middle" >p = 0.001</text>
<text x="341.70" y="489.00" font-size="8.2" text-anchor="middle" >Cytotoxic T cells</text>
<text x="276.80" y="600.50" font-size="8.2" >cGAMP</text>
<text x="276.80" y="612.30" font-size="8.0" >siPCSK9</text>
<text x="318.50" y="599.30" font-size="8.2" text-anchor="middle" >-</text>
<text x="318.50" y="610.30" font-size="8.2" text-anchor="middle" >-</text>
<text x="337.40" y="599.30" font-size="8.2" text-anchor="middle" >-</text>
<text x="337.40" y="610.30" font-size="8.2" text-anchor="middle" >+</text>
<text x="356.70" y="599.30" font-size="8.2" text-anchor="middle" >+</text>
<text x="356.70" y="610.30" font-size="8.2" text-anchor="middle" >-</text>
<text x="375.70" y="599.30" font-size="8.2" text-anchor="middle" >+</text>
<text x="375.70" y="610.30" font-size="8.2" text-anchor="middle" >+</text>
<line x1="313.40" y1="613.10" x2="378.80" y2="613.10" stroke="#444" stroke-width="1" />
<text x="346.10" y="622.30" font-size="8.5" text-anchor="middle" >NP</text>
<text x="291.20" y="542.50" font-size="8.1" text-anchor="middle" transform="rotate(-90 291.20 542.50)" ><tspan>CD8</tspan><tspan font-size="5.6" dy="-3">+</tspan><tspan dy="3"> T cell (%)</tspan></text>
<rect x="446.30" y="541.14" width="12.60" height="46.96" fill="#e6e6e6" stroke="#9a9a9a" stroke-width="0.9" />
<rect x="465.10" y="557.06" width="12.60" height="31.04" fill="#e2f3f6" stroke="#43bccb" stroke-width="0.9" />
<rect x="484.20" y="552.02" width="12.60" height="36.08" fill="#fdece1" stroke="#f7822e" stroke-width="0.9" />
<rect x="503.30" y="580.14" width="12.60" height="7.96" fill="#f6eefa" stroke="#a752c2" stroke-width="0.9" />
<line x1="452.60" y1="528.46" x2="452.60" y2="552.35" stroke="#9a9a9a" stroke-width="0.8" />
<line x1="450.30" y1="528.46" x2="454.90" y2="528.46" stroke="#9a9a9a" stroke-width="0.8" />
<line x1="450.30" y1="552.35" x2="454.90" y2="552.35" stroke="#9a9a9a" stroke-width="0.8" />
<circle cx="452.60" cy="528.79" r="1.50" fill="#d0d0d0" stroke="#9a9a9a" stroke-width="0.8" />
<circle cx="452.60" cy="543.58" r="1.50" fill="#d0d0d0" stroke="#9a9a9a" stroke-width="0.8" />
<circle cx="452.60" cy="549.75" r="1.50" fill="#d0d0d0" stroke="#9a9a9a" stroke-width="0.8" />
<line x1="471.40" y1="543.09" x2="471.40" y2="570.55" stroke="#43bccb" stroke-width="0.8" />
<line x1="469.10" y1="543.09" x2="473.70" y2="543.09" stroke="#43bccb" stroke-width="0.8" />
<line x1="469.10" y1="570.55" x2="473.70" y2="570.55" stroke="#43bccb" stroke-width="0.8" />
<circle cx="471.40" cy="540.98" r="1.50" fill="#bfe8ee" stroke="#43bccb" stroke-width="0.8" />
<circle cx="468.00" cy="564.54" r="1.50" fill="#bfe8ee" stroke="#43bccb" stroke-width="0.8" />
<circle cx="474.80" cy="564.54" r="1.50" fill="#bfe8ee" stroke="#43bccb" stroke-width="0.8" />
<line x1="490.50" y1="551.05" x2="490.50" y2="553.98" stroke="#f7822e" stroke-width="0.8" />
<line x1="488.20" y1="551.05" x2="492.80" y2="551.05" stroke="#f7822e" stroke-width="0.8" />
<line x1="488.20" y1="553.98" x2="492.80" y2="553.98" stroke="#f7822e" stroke-width="0.8" />
<circle cx="486.00" cy="552.02" r="1.50" fill="#fcd9c2" stroke="#f7822e" stroke-width="0.8" />
<circle cx="490.80" cy="553.16" r="1.50" fill="#fcd9c2" stroke="#f7822e" stroke-width="0.8" />
<circle cx="495.30" cy="554.30" r="1.50" fill="#fcd9c2" stroke="#f7822e" stroke-width="0.8" />
<line x1="509.60" y1="573.48" x2="509.60" y2="585.66" stroke="#a752c2" stroke-width="0.8" />
<line x1="507.30" y1="573.48" x2="511.90" y2="573.48" stroke="#a752c2" stroke-width="0.8" />
<line x1="507.30" y1="585.66" x2="511.90" y2="585.66" stroke="#a752c2" stroke-width="0.8" />
<circle cx="509.60" cy="574.29" r="1.50" fill="#ead6f2" stroke="#a752c2" stroke-width="0.8" />
<circle cx="506.50" cy="581.93" r="1.50" fill="#ead6f2" stroke="#a752c2" stroke-width="0.8" />
<circle cx="513.20" cy="583.55" r="1.50" fill="#ead6f2" stroke="#a752c2" stroke-width="0.8" />
<line x1="439.60" y1="491.40" x2="439.60" y2="588.10" stroke="#222" stroke-width="1" />
<line x1="439.60" y1="588.10" x2="523.00" y2="588.10" stroke="#222" stroke-width="1" />
<line x1="438.00" y1="588.10" x2="439.60" y2="588.10" stroke="#222" stroke-width="1" />
<text x="437.70" y="591.05" font-size="8.2" text-anchor="end" >0</text>
<line x1="438.00" y1="555.60" x2="439.60" y2="555.60" stroke="#222" stroke-width="1" />
<text x="437.70" y="558.55" font-size="8.2" text-anchor="end" >20</text>
<line x1="438.00" y1="523.10" x2="439.60" y2="523.10" stroke="#222" stroke-width="1" />
<text x="437.70" y="526.05" font-size="8.2" text-anchor="end" >40</text>
<line x1="438.00" y1="490.60" x2="439.60" y2="490.60" stroke="#222" stroke-width="1" />
<text x="437.70" y="493.55" font-size="8.2" text-anchor="end" >60</text>
<line x1="452.60" y1="588.10" x2="452.60" y2="590.10" stroke="#666" stroke-width="0.8" />
<line x1="471.40" y1="588.10" x2="471.40" y2="590.10" stroke="#666" stroke-width="0.8" />
<line x1="490.50" y1="588.10" x2="490.50" y2="590.10" stroke="#666" stroke-width="0.8" />
<line x1="509.60" y1="588.10" x2="509.60" y2="590.10" stroke="#666" stroke-width="0.8" />
<line x1="448.00" y1="506.90" x2="490.60" y2="506.90" stroke="#444" stroke-width="1" />
<text x="469.30" y="504.60" font-size="6.6" text-anchor="middle" >p = 0.135</text>
<line x1="448.50" y1="519.50" x2="476.10" y2="519.50" stroke="#444" stroke-width="1" />
<text x="462.30" y="517.20" font-size="6.6" text-anchor="middle" >p = 0.189</text>
<line x1="471.60" y1="530.50" x2="523.00" y2="530.50" stroke="#444" stroke-width="1" />
<text x="497.30" y="528.20" font-size="6.6" text-anchor="middle" >p = 0.05</text>
<line x1="490.60" y1="544.30" x2="523.00" y2="544.30" stroke="#444" stroke-width="1" />
<text x="506.80" y="542.00" font-size="6.6" text-anchor="middle" >p = 0.001</text>
<text x="486.30" y="489.00" font-size="8.2" text-anchor="middle" >Treg</text>
<text x="411.00" y="600.50" font-size="8.2" >cGAMP</text>
<text x="411.00" y="612.30" font-size="8.0" >siPCSK9</text>
<text x="452.60" y="599.30" font-size="8.2" text-anchor="middle" >-</text>
<text x="452.60" y="610.30" font-size="8.2" text-anchor="middle" >-</text>
<text x="471.40" y="599.30" font-size="8.2" text-anchor="middle" >-</text>
<text x="471.40" y="610.30" font-size="8.2" text-anchor="middle" >+</text>
<text x="490.50" y="599.30" font-size="8.2" text-anchor="middle" >+</text>
<text x="490.50" y="610.30" font-size="8.2" text-anchor="middle" >-</text>
<text x="509.60" y="599.30" font-size="8.2" text-anchor="middle" >+</text>
<text x="509.60" y="610.30" font-size="8.2" text-anchor="middle" >+</text>
<line x1="449.40" y1="613.90" x2="510.20" y2="613.90" stroke="#444" stroke-width="1" />
<text x="479.80" y="622.30" font-size="8.5" text-anchor="middle" >NP</text>
<text x="427.40" y="537.30" font-size="8.1" text-anchor="middle" transform="rotate(-90 427.40 537.30)" ><tspan>CD25</tspan><tspan font-size="5.6" dy="-3">+</tspan><tspan dy="3"> Foxp3</tspan><tspan font-size="5.6" dy="-3">+</tspan><tspan dy="3"> (%)</tspan></text>
<rect x="586.40" y="573.15" width="12.20" height="15.95" fill="#e6e6e6" stroke="#9a9a9a" stroke-width="0.9" />
<rect x="604.30" y="564.18" width="12.20" height="24.92" fill="#e2f3f6" stroke="#43bccb" stroke-width="0.9" />
<rect x="622.60" y="557.48" width="12.20" height="31.62" fill="#fdece1" stroke="#f7822e" stroke-width="0.9" />
<rect x="641.20" y="543.41" width="12.20" height="45.69" fill="#f6eefa" stroke="#a752c2" stroke-width="0.9" />
<line x1="592.50" y1="569.28" x2="592.50" y2="575.41" stroke="#9a9a9a" stroke-width="0.8" />
<line x1="590.20" y1="569.28" x2="594.80" y2="569.28" stroke="#9a9a9a" stroke-width="0.8" />
<line x1="590.20" y1="575.41" x2="594.80" y2="575.41" stroke="#9a9a9a" stroke-width="0.8" />
<circle cx="592.50" cy="570.22" r="1.50" fill="#d0d0d0" stroke="#9a9a9a" stroke-width="0.8" />
<circle cx="590.00" cy="574.00" r="1.50" fill="#d0d0d0" stroke="#9a9a9a" stroke-width="0.8" />
<circle cx="595.00" cy="575.41" r="1.50" fill="#d0d0d0" stroke="#9a9a9a" stroke-width="0.8" />
<line x1="610.40" y1="560.31" x2="610.40" y2="567.39" stroke="#43bccb" stroke-width="0.8" />
<line x1="608.10" y1="560.31" x2="612.70" y2="560.31" stroke="#43bccb" stroke-width="0.8" />
<line x1="608.10" y1="567.39" x2="612.70" y2="567.39" stroke="#43bccb" stroke-width="0.8" />
<circle cx="607.40" cy="560.78" r="1.50" fill="#bfe8ee" stroke="#43bccb" stroke-width="0.8" />
<circle cx="613.40" cy="561.25" r="1.50" fill="#bfe8ee" stroke="#43bccb" stroke-width="0.8" />
<circle cx="610.40" cy="567.39" r="1.50" fill="#bfe8ee" stroke="#43bccb" stroke-width="0.8" />
<line x1="628.70" y1="555.87" x2="628.70" y2="558.42" stroke="#f7822e" stroke-width="0.8" />
<line x1="626.40" y1="555.87" x2="631.00" y2="555.87" stroke="#f7822e" stroke-width="0.8" />
<line x1="626.40" y1="558.42" x2="631.00" y2="558.42" stroke="#f7822e" stroke-width="0.8" />
<circle cx="625.20" cy="556.06" r="1.50" fill="#fcd9c2" stroke="#f7822e" stroke-width="0.8" />
<circle cx="629.20" cy="557.00" r="1.50" fill="#fcd9c2" stroke="#f7822e" stroke-width="0.8" />
<circle cx="632.70" cy="557.95" r="1.50" fill="#fcd9c2" stroke="#f7822e" stroke-width="0.8" />
<line x1="647.30" y1="534.82" x2="647.30" y2="551.34" stroke="#a752c2" stroke-width="0.8" />
<line x1="645.00" y1="534.82" x2="649.60" y2="534.82" stroke="#a752c2" stroke-width="0.8" />
<line x1="645.00" y1="551.34" x2="649.60" y2="551.34" stroke="#a752c2" stroke-width="0.8" />
<circle cx="647.30" cy="535.29" r="1.50" fill="#ead6f2" stroke="#a752c2" stroke-width="0.8" />
<circle cx="647.30" cy="543.79" r="1.50" fill="#ead6f2" stroke="#a752c2" stroke-width="0.8" />
<circle cx="647.30" cy="551.34" r="1.50" fill="#ead6f2" stroke="#a752c2" stroke-width="0.8" />
<line x1="579.70" y1="494.00" x2="579.70" y2="589.10" stroke="#222" stroke-width="1" />
<line x1="579.70" y1="589.10" x2="659.30" y2="589.10" stroke="#222" stroke-width="1" />
<line x1="578.10" y1="589.10" x2="579.70" y2="589.10" stroke="#222" stroke-width="1" />
<text x="577.80" y="592.05" font-size="8.2" text-anchor="end" >0</text>
<line x1="578.10" y1="565.50" x2="579.70" y2="565.50" stroke="#222" stroke-width="1" />
<text x="577.80" y="568.45" font-size="8.2" text-anchor="end" >25</text>
<line x1="578.10" y1="541.90" x2="579.70" y2="541.90" stroke="#222" stroke-width="1" />
<text x="577.80" y="544.85" font-size="8.2" text-anchor="end" >50</text>
<line x1="578.10" y1="518.30" x2="579.70" y2="518.30" stroke="#222" stroke-width="1" />
<text x="577.80" y="521.25" font-size="8.2" text-anchor="end" >75</text>
<line x1="578.10" y1="494.70" x2="579.70" y2="494.70" stroke="#222" stroke-width="1" />
<text x="577.80" y="497.65" font-size="8.2" text-anchor="end" >100</text>
<line x1="592.50" y1="589.10" x2="592.50" y2="591.10" stroke="#666" stroke-width="0.8" />
<line x1="610.40" y1="589.10" x2="610.40" y2="591.10" stroke="#666" stroke-width="0.8" />
<line x1="628.70" y1="589.10" x2="628.70" y2="591.10" stroke="#666" stroke-width="0.8" />
<line x1="647.30" y1="589.10" x2="647.30" y2="591.10" stroke="#666" stroke-width="0.8" />
<line x1="589.30" y1="509.40" x2="647.10" y2="509.40" stroke="#444" stroke-width="1" />
<text x="618.20" y="507.10" font-size="6.6" text-anchor="middle" >p=0.0004</text>
<line x1="606.20" y1="519.50" x2="647.10" y2="519.50" stroke="#444" stroke-width="1" />
<text x="626.65" y="517.20" font-size="6.6" text-anchor="middle" >p = 0.004</text>
<line x1="623.90" y1="530.40" x2="647.10" y2="530.40" stroke="#444" stroke-width="1" />
<text x="635.50" y="528.10" font-size="6.6" text-anchor="middle" >p = 0.043</text>
<text x="619.90" y="488.30" font-size="8.2" text-anchor="middle" ><tspan>Antigen-specific CD8</tspan><tspan font-size="5.6" dy="-3">+</tspan><tspan dy="3"> T cells</tspan></text>
<text x="552.50" y="600.50" font-size="8.2" >cGAMP</text>
<text x="552.50" y="612.30" font-size="8.0" >siPCSK9</text>
<text x="592.50" y="599.30" font-size="8.2" text-anchor="middle" >-</text>
<text x="592.50" y="610.30" font-size="8.2" text-anchor="middle" >-</text>
<text x="610.40" y="599.30" font-size="8.2" text-anchor="middle" >-</text>
<text x="610.40" y="610.30" font-size="8.2" text-anchor="middle" >+</text>
<text x="628.70" y="599.30" font-size="8.2" text-anchor="middle" >+</text>
<text x="628.70" y="610.30" font-size="8.2" text-anchor="middle" >-</text>
<text x="647.30" y="599.30" font-size="8.2" text-anchor="middle" >+</text>
<text x="647.30" y="610.30" font-size="8.2" text-anchor="middle" >+</text>
<line x1="590.40" y1="614.20" x2="649.20" y2="614.20" stroke="#444" stroke-width="1" />
<text x="621.20" y="622.30" font-size="8.5" text-anchor="middle" >NP</text>
<text x="553.60" y="538.70" font-size="7.8" text-anchor="middle" transform="rotate(-90 553.60 538.70)" ><tspan>SIINFEKL-specific CD8</tspan><tspan font-size="5.6" dy="-3">+</tspan><tspan dy="3">T cells</tspan></text>
<text x="562.00" y="538.70" font-size="7.8" text-anchor="middle" transform="rotate(-90 562.00 538.70)" >(among tumor cells %)</text>
</svg>
</body></html>
